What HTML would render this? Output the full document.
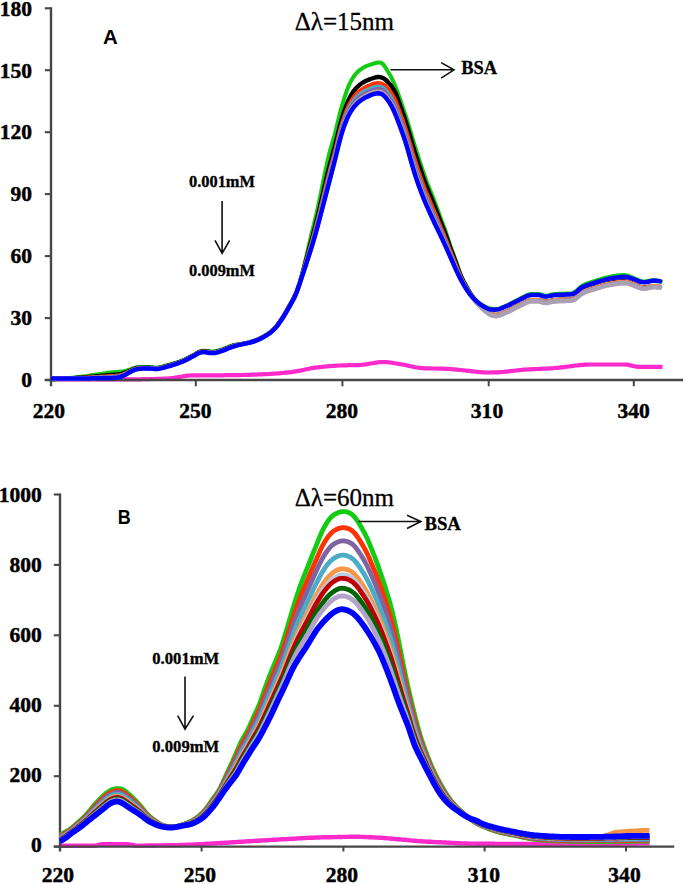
<!DOCTYPE html>
<html><head><meta charset="utf-8"><style>
html,body{margin:0;padding:0;background:#fff;}
body{width:685px;height:884px;overflow:hidden;position:relative;}
svg{position:absolute;left:0;top:0;}
text{fill:#000;}
.tk{font-family:"Liberation Serif",serif;font-weight:bold;font-size:20.5px;stroke:#000;stroke-width:0.45px;}
.ttl{font-family:"Liberation Serif",serif;font-size:25px;stroke:#000;stroke-width:0.3px;}
.bsa{font-family:"Liberation Serif",serif;font-weight:bold;font-size:19px;stroke:#000;stroke-width:0.3px;}
.lab{font-family:"Liberation Sans",sans-serif;font-weight:bold;font-size:20px;}
.conc{font-family:"Liberation Serif",serif;font-weight:bold;font-size:16.5px;stroke:#000;stroke-width:0.3px;}
</style></head><body>
<svg width="685" height="884" viewBox="0 0 685 884">
<g fill="none" stroke-linejoin="round" stroke-linecap="butt">
<path d="M51.0 379.3L52.5 379.3L54.0 379.3L55.5 379.3L57.0 379.3L58.5 379.3L60.0 379.3L61.5 379.3L63.0 379.3L64.5 379.3L66.0 379.3L67.5 379.3L69.0 379.3L70.5 379.3L72.0 379.3L73.5 379.3L75.0 379.3L76.5 379.3L78.0 379.3L79.5 379.3L81.0 379.3L82.5 379.3L84.0 379.3L85.5 379.3L87.0 379.3L88.5 379.3L90.0 379.3L91.5 379.3L93.0 379.3L94.5 379.3L96.0 379.3L97.5 379.3L99.0 379.3L100.5 379.3L102.0 379.3L103.5 379.3L105.0 379.3L106.5 379.3L108.0 379.3L109.5 379.3L111.0 379.3L112.5 379.3L114.0 379.3L115.5 379.3L117.0 379.3L118.5 379.3L120.0 379.3L121.5 379.3L123.0 379.3L124.5 379.3L126.0 379.3L127.5 379.4L129.0 379.4L130.5 379.4L132.0 379.4L133.5 379.4L135.0 379.4L136.5 379.4L138.0 379.3L139.5 379.3L141.0 379.3L142.5 379.2L144.0 379.2L145.5 379.2L147.0 379.1L148.5 379.1L150.0 379.1L151.5 379.0L153.0 379.0L154.5 379.0L156.0 378.9L157.5 378.9L159.0 378.8L160.5 378.8L162.0 378.8L163.5 378.7L165.0 378.6L166.5 378.6L168.0 378.5L169.5 378.3L171.0 378.2L172.5 378.0L174.0 377.8L175.5 377.5L177.0 377.3L178.5 377.0L180.0 376.8L181.5 376.6L183.0 376.3L184.5 376.1L186.0 375.9L187.5 375.7L189.0 375.6L190.5 375.5L192.0 375.4L193.5 375.4L195.0 375.4L196.5 375.4L198.0 375.4L199.5 375.3L201.0 375.3L202.5 375.3L204.0 375.3L205.5 375.3L207.0 375.3L208.5 375.3L210.0 375.3L211.5 375.3L213.0 375.3L214.5 375.3L216.0 375.3L217.5 375.3L219.0 375.3L220.5 375.3L222.0 375.3L223.5 375.3L225.0 375.2L226.5 375.2L228.0 375.2L229.5 375.2L231.0 375.2L232.5 375.2L234.0 375.2L235.5 375.2L237.0 375.1L238.5 375.1L240.0 375.1L241.5 375.0L243.0 375.0L244.5 375.0L246.0 374.9L247.5 374.9L249.0 374.8L250.5 374.8L252.0 374.7L253.5 374.7L255.0 374.6L256.5 374.6L258.0 374.5L259.5 374.4L261.0 374.4L262.5 374.3L264.0 374.2L265.5 374.2L267.0 374.1L268.5 374.0L270.0 373.9L271.5 373.8L273.0 373.7L274.5 373.6L276.0 373.5L277.5 373.4L279.0 373.3L280.5 373.1L282.0 373.0L283.5 372.9L285.0 372.7L286.5 372.6L288.0 372.4L289.5 372.3L291.0 372.1L292.5 371.9L294.0 371.7L295.5 371.4L297.0 371.2L298.5 370.9L300.0 370.7L301.5 370.4L303.0 370.0L304.5 369.7L306.0 369.3L307.5 369.0L309.0 368.7L310.5 368.4L312.0 368.2L313.5 367.9L315.0 367.7L316.5 367.5L318.0 367.3L319.5 367.1L321.0 367.0L322.5 366.8L324.0 366.6L325.5 366.5L327.0 366.4L328.5 366.2L330.0 366.1L331.5 366.0L333.0 365.9L334.5 365.8L336.0 365.7L337.5 365.6L339.0 365.5L340.5 365.4L342.0 365.4L343.5 365.3L345.0 365.3L346.5 365.3L348.0 365.2L349.5 365.2L351.0 365.2L352.5 365.2L354.0 365.2L355.5 365.1L357.0 365.1L358.5 365.1L360.0 365.0L361.5 364.9L363.0 364.7L364.5 364.5L366.0 364.3L367.5 364.1L369.0 363.8L370.5 363.5L372.0 363.3L373.5 363.0L375.0 362.8L376.5 362.6L378.0 362.4L379.5 362.2L381.0 362.1L382.5 362.1L384.0 362.1L385.5 362.1L387.0 362.2L388.5 362.3L390.0 362.5L391.5 362.7L393.0 363.0L394.5 363.2L396.0 363.5L397.5 363.7L399.0 364.0L400.5 364.2L402.0 364.5L403.5 364.7L405.0 365.0L406.5 365.3L408.0 365.6L409.5 366.0L411.0 366.3L412.5 366.6L414.0 367.0L415.5 367.3L417.0 367.5L418.5 367.8L420.0 367.9L421.5 368.1L423.0 368.2L424.5 368.3L426.0 368.3L427.5 368.4L429.0 368.4L430.5 368.4L432.0 368.5L433.5 368.5L435.0 368.5L436.5 368.6L438.0 368.6L439.5 368.6L441.0 368.6L442.5 368.7L444.0 368.7L445.5 368.8L447.0 368.9L448.5 368.9L450.0 369.0L451.5 369.2L453.0 369.3L454.5 369.4L456.0 369.6L457.5 369.7L459.0 369.9L460.5 370.0L462.0 370.2L463.5 370.3L465.0 370.5L466.5 370.6L468.0 370.8L469.5 370.9L471.0 371.1L472.5 371.3L474.0 371.5L475.5 371.6L477.0 371.8L478.5 372.0L480.0 372.1L481.5 372.2L483.0 372.3L484.5 372.4L486.0 372.5L487.5 372.5L489.0 372.5L490.5 372.5L492.0 372.4L493.5 372.4L495.0 372.4L496.5 372.3L498.0 372.3L499.5 372.2L501.0 372.1L502.5 372.0L504.0 371.9L505.5 371.7L507.0 371.6L508.5 371.4L510.0 371.2L511.5 371.0L513.0 370.8L514.5 370.7L516.0 370.5L517.5 370.3L519.0 370.1L520.5 370.0L522.0 369.9L523.5 369.7L525.0 369.6L526.5 369.5L528.0 369.4L529.5 369.4L531.0 369.3L532.5 369.2L534.0 369.1L535.5 369.1L537.0 369.0L538.5 368.9L540.0 368.9L541.5 368.8L543.0 368.7L544.5 368.7L546.0 368.6L547.5 368.5L549.0 368.4L550.5 368.4L552.0 368.3L553.5 368.2L555.0 368.0L556.5 367.9L558.0 367.8L559.5 367.6L561.0 367.4L562.5 367.3L564.0 367.1L565.5 366.9L567.0 366.7L568.5 366.5L570.0 366.3L571.5 366.1L573.0 365.9L574.5 365.7L576.0 365.5L577.5 365.4L579.0 365.2L580.5 365.1L582.0 364.9L583.5 364.8L585.0 364.7L586.5 364.6L588.0 364.6L589.5 364.5L591.0 364.5L592.5 364.5L594.0 364.5L595.5 364.5L597.0 364.5L598.5 364.5L600.0 364.5L601.5 364.5L603.0 364.5L604.5 364.5L606.0 364.5L607.5 364.5L609.0 364.5L610.5 364.5L612.0 364.5L613.5 364.5L615.0 364.5L616.5 364.5L618.0 364.5L619.5 364.5L621.0 364.5L622.5 364.5L624.0 364.5L625.5 364.6L627.0 364.7L628.5 364.9L630.0 365.2L631.5 365.6L633.0 365.9L634.5 366.3L636.0 366.6L637.5 366.7L639.0 366.8L640.5 366.8L642.0 366.8L643.5 366.8L645.0 366.8L646.5 366.8L648.0 366.8L649.5 366.8L651.0 366.8L652.5 366.8L654.0 366.8L655.5 366.8L657.0 366.8L658.5 366.8L660.0 366.8L661.5 366.8L662.5 366.8" stroke="#ff2acc" stroke-width="4.2"/>
<path d="M60.0 845.7L61.5 845.7L63.0 845.7L64.5 845.7L66.0 845.7L67.5 845.7L69.0 845.7L70.5 845.7L72.0 845.7L73.5 845.7L75.0 845.7L76.5 845.7L78.0 845.7L79.5 845.7L81.0 845.7L82.5 845.7L84.0 845.7L85.5 845.7L87.0 845.7L88.5 845.7L90.0 845.7L91.5 845.7L93.0 845.7L94.5 845.7L96.0 845.5L97.5 845.2L99.0 844.8L100.5 844.5L102.0 844.3L103.5 844.3L105.0 844.3L106.5 844.3L108.0 844.3L109.5 844.3L111.0 844.3L112.5 844.3L114.0 844.3L115.5 844.3L117.0 844.3L118.5 844.3L120.0 844.3L121.5 844.3L123.0 844.3L124.5 844.3L126.0 844.3L127.5 844.3L129.0 844.4L130.5 844.6L132.0 844.9L133.5 845.3L135.0 845.5L136.5 845.6L138.0 845.6L139.5 845.6L141.0 845.6L142.5 845.6L144.0 845.6L145.5 845.6L147.0 845.5L148.5 845.5L150.0 845.5L151.5 845.5L153.0 845.5L154.5 845.5L156.0 845.4L157.5 845.4L159.0 845.4L160.5 845.4L162.0 845.4L163.5 845.3L165.0 845.3L166.5 845.3L168.0 845.3L169.5 845.3L171.0 845.2L172.5 845.2L174.0 845.2L175.5 845.1L177.0 845.1L178.5 845.1L180.0 845.0L181.5 845.0L183.0 844.9L184.5 844.9L186.0 844.8L187.5 844.8L189.0 844.7L190.5 844.6L192.0 844.6L193.5 844.5L195.0 844.4L196.5 844.4L198.0 844.3L199.5 844.2L201.0 844.1L202.5 844.1L204.0 844.0L205.5 843.9L207.0 843.8L208.5 843.7L210.0 843.6L211.5 843.6L213.0 843.5L214.5 843.4L216.0 843.3L217.5 843.2L219.0 843.1L220.5 843.0L222.0 843.0L223.5 842.9L225.0 842.8L226.5 842.7L228.0 842.6L229.5 842.5L231.0 842.4L232.5 842.3L234.0 842.2L235.5 842.1L237.0 842.0L238.5 841.9L240.0 841.8L241.5 841.7L243.0 841.6L244.5 841.5L246.0 841.4L247.5 841.3L249.0 841.3L250.5 841.2L252.0 841.1L253.5 841.0L255.0 840.9L256.5 840.8L258.0 840.7L259.5 840.6L261.0 840.5L262.5 840.4L264.0 840.4L265.5 840.3L267.0 840.2L268.5 840.1L270.0 840.0L271.5 839.9L273.0 839.8L274.5 839.8L276.0 839.7L277.5 839.6L279.0 839.5L280.5 839.4L282.0 839.3L283.5 839.3L285.0 839.2L286.5 839.1L288.0 839.0L289.5 838.9L291.0 838.8L292.5 838.7L294.0 838.7L295.5 838.6L297.0 838.5L298.5 838.4L300.0 838.3L301.5 838.2L303.0 838.1L304.5 838.1L306.0 838.0L307.5 837.9L309.0 837.8L310.5 837.8L312.0 837.7L313.5 837.7L315.0 837.6L316.5 837.5L318.0 837.5L319.5 837.5L321.0 837.4L322.5 837.4L324.0 837.3L325.5 837.3L327.0 837.3L328.5 837.2L330.0 837.2L331.5 837.2L333.0 837.1L334.5 837.1L336.0 837.1L337.5 837.0L339.0 837.0L340.5 837.0L342.0 837.0L343.5 836.9L345.0 836.9L346.5 836.9L348.0 836.9L349.5 836.8L351.0 836.8L352.5 836.8L354.0 836.8L355.5 836.8L357.0 836.8L358.5 836.8L360.0 836.9L361.5 836.9L363.0 836.9L364.5 837.0L366.0 837.1L367.5 837.1L369.0 837.2L370.5 837.3L372.0 837.3L373.5 837.4L375.0 837.5L376.5 837.6L378.0 837.6L379.5 837.7L381.0 837.8L382.5 837.9L384.0 838.0L385.5 838.1L387.0 838.3L388.5 838.4L390.0 838.5L391.5 838.7L393.0 838.8L394.5 838.9L396.0 839.1L397.5 839.2L399.0 839.3L400.5 839.4L402.0 839.6L403.5 839.7L405.0 839.8L406.5 840.0L408.0 840.1L409.5 840.3L411.0 840.4L412.5 840.6L414.0 840.7L415.5 840.8L417.0 841.0L418.5 841.1L420.0 841.2L421.5 841.3L423.0 841.4L424.5 841.5L426.0 841.6L427.5 841.7L429.0 841.8L430.5 841.8L432.0 841.9L433.5 842.0L435.0 842.1L436.5 842.1L438.0 842.2L439.5 842.3L441.0 842.3L442.5 842.4L444.0 842.5L445.5 842.5L447.0 842.6L448.5 842.7L450.0 842.8L451.5 842.9L453.0 842.9L454.5 843.0L456.0 843.1L457.5 843.2L459.0 843.3L460.5 843.3L462.0 843.4L463.5 843.4L465.0 843.5L466.5 843.5L468.0 843.5L469.5 843.6L471.0 843.6L472.5 843.6L474.0 843.6L475.5 843.6L477.0 843.7L478.5 843.7L480.0 843.7L481.5 843.7L483.0 843.7L484.5 843.8L486.0 843.8L487.5 843.8L489.0 843.8L490.5 843.8L492.0 843.8L493.5 843.8L495.0 843.9L496.5 843.9L498.0 843.9L499.5 843.9L501.0 843.9L502.5 843.9L504.0 843.9L505.5 843.9L507.0 843.9L508.5 844.0L510.0 844.0L511.5 844.0L513.0 844.0L514.5 844.0L516.0 844.0L517.5 844.0L519.0 844.0L520.5 844.0L522.0 844.0L523.5 844.0L525.0 844.0L526.5 844.0L528.0 844.0L529.5 844.0L531.0 844.0L532.5 844.0L534.0 844.0L535.5 844.0L537.0 844.0L538.5 844.0L540.0 844.0L541.5 844.0L543.0 844.0L544.5 844.0L546.0 844.0L547.5 844.0L549.0 844.0L550.5 844.0L552.0 844.0L553.5 844.0L555.0 844.0L556.5 844.0L558.0 844.0L559.5 844.0L561.0 843.9L562.5 843.9L564.0 843.9L565.5 843.9L567.0 843.9L568.5 843.9L570.0 843.9L571.5 843.9L573.0 843.9L574.5 843.9L576.0 843.9L577.5 843.9L579.0 843.9L580.5 843.9L582.0 843.9L583.5 843.9L585.0 843.9L586.5 843.9L588.0 843.9L589.5 843.8L591.0 843.8L592.5 843.8L594.0 843.8L595.5 843.8L597.0 843.8L598.5 843.8L600.0 843.8L601.5 843.8L603.0 843.8L604.5 843.8L606.0 843.8L607.5 843.8L609.0 843.7L610.5 843.7L612.0 843.7L613.5 843.7L615.0 843.7L616.5 843.7L618.0 843.7L619.5 843.7L621.0 843.6L622.5 843.6L624.0 843.6L625.5 843.6L627.0 843.6L628.5 843.6L630.0 843.5L631.5 843.5L633.0 843.5L634.5 843.5L636.0 843.5L637.5 843.5L639.0 843.4L640.5 843.4L642.0 843.4L643.5 843.4L645.0 843.4L646.5 843.3L648.0 843.3L649.5 843.3" stroke="#ff2acc" stroke-width="4.4"/>
</g>
<g fill="none" stroke-linecap="butt">
<path d="M51.0 7.2L51.0 386.3" stroke="#474747" stroke-width="2.4"/>
<path d="M44.8 380.0L683.0 380.0" stroke="#474747" stroke-width="2.3"/>
<path d="M44.8 380.0L51.0 380.0" stroke="#474747" stroke-width="2.1"/>
<path d="M44.8 318.1L51.0 318.1" stroke="#474747" stroke-width="2.1"/>
<path d="M44.8 256.1L51.0 256.1" stroke="#474747" stroke-width="2.1"/>
<path d="M44.8 194.1L51.0 194.1" stroke="#474747" stroke-width="2.1"/>
<path d="M44.8 132.2L51.0 132.2" stroke="#474747" stroke-width="2.1"/>
<path d="M44.8 70.2L51.0 70.2" stroke="#474747" stroke-width="2.1"/>
<path d="M44.8 8.3L51.0 8.3" stroke="#474747" stroke-width="2.1"/>
<path d="M195.8 380.0L195.8 386.3" stroke="#474747" stroke-width="2"/>
<path d="M342.4 380.0L342.4 386.3" stroke="#474747" stroke-width="2"/>
<path d="M488.7 380.0L488.7 386.3" stroke="#474747" stroke-width="2"/>
<path d="M633.8 380.0L633.8 386.3" stroke="#474747" stroke-width="2"/>
<path d="M60.0 493.4L60.0 851.5" stroke="#474747" stroke-width="2.4"/>
<path d="M53.8 846.6L674.2 846.6" stroke="#474747" stroke-width="2.3"/>
<path d="M53.8 846.6L60.0 846.6" stroke="#474747" stroke-width="2.1"/>
<path d="M53.8 776.2L60.0 776.2" stroke="#474747" stroke-width="2.1"/>
<path d="M53.8 705.8L60.0 705.8" stroke="#474747" stroke-width="2.1"/>
<path d="M53.8 635.3L60.0 635.3" stroke="#474747" stroke-width="2.1"/>
<path d="M53.8 564.9L60.0 564.9" stroke="#474747" stroke-width="2.1"/>
<path d="M53.8 494.5L60.0 494.5" stroke="#474747" stroke-width="2.1"/>
<path d="M201.6 846.6L201.6 851.5" stroke="#474747" stroke-width="2"/>
<path d="M343.4 846.6L343.4 851.5" stroke="#474747" stroke-width="2"/>
<path d="M484.6 846.6L484.6 851.5" stroke="#474747" stroke-width="2"/>
<path d="M626.0 846.6L626.0 851.5" stroke="#474747" stroke-width="2"/>
</g>
<g fill="none" stroke-linejoin="round" stroke-linecap="butt">
<path d="M51.0 379.5L52.5 379.4L54.0 379.3L55.5 379.2L57.0 379.1L58.5 379.0L60.0 378.9L61.5 378.8L63.0 378.6L64.5 378.5L66.0 378.4L67.5 378.2L69.0 378.1L70.5 378.0L72.0 377.8L73.5 377.7L75.0 377.5L76.5 377.3L78.0 377.2L79.5 377.0L81.0 376.8L82.5 376.6L84.0 376.4L85.5 376.2L87.0 375.9L88.5 375.7L90.0 375.5L91.5 375.3L93.0 375.1L94.5 374.8L96.0 374.6L97.5 374.4L99.0 374.1L100.5 373.9L102.0 373.7L103.5 373.4L105.0 373.2L106.5 373.0L108.0 372.8L109.5 372.6L111.0 372.4L112.5 372.3L114.0 372.2L115.5 372.1L117.0 372.0L118.5 371.8L120.0 371.7L121.5 371.5L123.0 371.3L124.5 371.0L126.0 370.6L127.5 370.2L129.0 369.8L130.5 369.3L132.0 368.7L133.5 368.1L135.0 367.6L136.5 367.3L138.0 367.1L139.5 367.0L141.0 367.0L142.5 367.0L144.0 367.0L145.5 367.0L147.0 367.0L148.5 367.1L150.0 367.2L151.5 367.2L153.0 367.3L154.5 367.4L156.0 367.4L157.5 367.4L159.0 367.2L160.5 366.9L162.0 366.6L163.5 366.2L165.0 365.8L166.5 365.3L168.0 364.9L169.5 364.5L171.0 364.1L172.5 363.7L174.0 363.3L175.5 362.8L177.0 362.3L178.5 361.8L180.0 361.3L181.5 360.8L183.0 360.2L184.5 359.5L186.0 358.8L187.5 358.1L189.0 357.3L190.5 356.5L192.0 355.7L193.5 354.9L195.0 354.0L196.5 353.1L198.0 352.2L199.5 351.5L201.0 351.0L202.5 350.7L204.0 350.7L205.5 350.7L207.0 350.9L208.5 351.1L210.0 351.3L211.5 351.4L213.0 351.4L214.5 351.3L216.0 351.0L217.5 350.7L219.0 350.3L220.5 349.8L222.0 349.3L223.5 348.8L225.0 348.2L226.5 347.6L228.0 347.0L229.5 346.3L231.0 345.8L232.5 345.3L234.0 345.0L235.5 344.8L237.0 344.6L238.5 344.4L240.0 344.3L241.5 344.0L243.0 343.8L244.5 343.5L246.0 343.1L247.5 342.8L249.0 342.4L250.5 342.0L252.0 341.5L253.5 341.0L255.0 340.5L256.5 339.9L258.0 339.3L259.5 338.6L261.0 337.9L262.5 337.1L264.0 336.3L265.5 335.4L267.0 334.5L268.5 333.4L270.0 332.3L271.5 331.0L273.0 329.7L274.5 328.2L276.0 326.5L277.5 324.7L279.0 322.7L280.5 320.5L282.0 318.3L283.5 315.9L285.0 313.4L286.5 310.8L288.0 308.1L289.5 305.4L291.0 302.7L292.5 300.0L294.0 297.2L295.5 294.0L297.0 290.4L298.5 286.1L300.0 281.3L301.5 276.0L303.0 270.2L304.5 264.1L306.0 257.7L307.5 251.1L309.0 244.6L310.5 238.2L312.0 232.0L313.5 226.0L315.0 219.8L316.5 213.4L318.0 206.7L319.5 199.7L321.0 192.5L322.5 185.0L324.0 177.6L325.5 170.2L327.0 163.2L328.5 156.7L330.0 150.8L331.5 145.5L333.0 140.4L334.5 135.2L336.0 129.4L337.5 123.1L339.0 116.9L340.5 111.1L342.0 105.7L343.5 100.6L345.0 95.8L346.5 91.5L348.0 87.6L349.5 84.1L351.0 81.1L352.5 78.5L354.0 76.2L355.5 74.2L357.0 72.5L358.5 71.1L360.0 69.9L361.5 68.8L363.0 67.8L364.5 67.0L366.0 66.2L367.5 65.6L369.0 65.1L370.5 64.6L372.0 64.1L373.5 63.6L375.0 63.2L376.5 62.8L378.0 62.5L379.5 62.5L381.0 62.8L382.5 63.7L384.0 65.3L385.5 67.6L387.0 70.0L388.5 72.5L390.0 75.1L391.5 77.8L393.0 80.8L394.5 84.2L396.0 87.9L397.5 92.0L399.0 96.2L400.5 100.4L402.0 104.7L403.5 109.1L405.0 113.6L406.5 118.2L408.0 123.1L409.5 128.1L411.0 133.1L412.5 138.2L414.0 143.1L415.5 148.0L417.0 152.7L418.5 157.3L420.0 162.0L421.5 166.5L423.0 171.1L424.5 175.5L426.0 179.7L427.5 183.6L429.0 187.4L430.5 191.0L432.0 194.8L433.5 198.6L435.0 202.5L436.5 206.5L438.0 210.7L439.5 215.0L441.0 219.1L442.5 223.0L444.0 226.9L445.5 231.0L447.0 235.4L448.5 240.0L450.0 244.6L451.5 248.8L453.0 252.9L454.5 256.9L456.0 261.2L457.5 265.7L459.0 270.1L460.5 274.2L462.0 277.7L463.5 280.7L465.0 283.5L466.5 286.2L468.0 288.9L469.5 291.6L471.0 294.1L472.5 296.3L474.0 298.2L475.5 299.8L477.0 301.3L478.5 302.5L480.0 303.6L481.5 304.6L483.0 305.4L484.5 306.2L486.0 307.0L487.5 307.7L489.0 308.2L490.5 308.6L492.0 308.8L493.5 308.9L495.0 308.9L496.5 308.9L498.0 308.8L499.5 308.5L501.0 307.9L502.5 307.3L504.0 306.6L505.5 305.9L507.0 305.3L508.5 304.6L510.0 303.8L511.5 303.1L513.0 302.3L514.5 301.5L516.0 300.7L517.5 299.9L519.0 299.1L520.5 298.4L522.0 297.6L523.5 296.8L525.0 296.0L526.5 295.3L528.0 294.7L529.5 294.3L531.0 294.1L532.5 294.0L534.0 294.0L535.5 294.0L537.0 294.0L538.5 294.1L540.0 294.3L541.5 294.7L543.0 295.2L544.5 295.6L546.0 295.7L547.5 295.5L549.0 295.2L550.5 294.8L552.0 294.4L553.5 294.2L555.0 294.0L556.5 293.9L558.0 293.8L559.5 293.8L561.0 293.7L562.5 293.7L564.0 293.7L565.5 293.6L567.0 293.6L568.5 293.5L570.0 293.4L571.5 293.3L573.0 292.9L574.5 292.2L576.0 291.1L577.5 289.8L579.0 288.3L580.5 286.9L582.0 285.9L583.5 285.0L585.0 284.3L586.5 283.7L588.0 283.1L589.5 282.6L591.0 282.1L592.5 281.7L594.0 281.2L595.5 280.7L597.0 280.2L598.5 279.8L600.0 279.3L601.5 278.8L603.0 278.4L604.5 278.0L606.0 277.6L607.5 277.2L609.0 276.9L610.5 276.6L612.0 276.3L613.5 276.0L615.0 275.8L616.5 275.6L618.0 275.5L619.5 275.3L621.0 275.2L622.5 275.1L624.0 275.1L625.5 275.2L627.0 275.5L628.5 275.9L630.0 276.5L631.5 277.1L633.0 277.7L634.5 278.4L636.0 279.1L637.5 279.7L639.0 280.3L640.5 280.9L642.0 281.3L643.5 281.5L645.0 281.5L646.5 281.3L648.0 281.0L649.5 280.7L651.0 280.4L652.5 280.2L654.0 280.1L655.5 280.2L657.0 280.5L658.5 280.8L660.0 281.3L661.5 281.8L662.5 282.2" stroke="#11cc11" stroke-width="4.0"/>
<path d="M51.0 379.1L52.5 379.0L54.0 379.0L55.5 378.9L57.0 378.9L58.5 378.8L60.0 378.7L61.5 378.7L63.0 378.6L64.5 378.5L66.0 378.5L67.5 378.4L69.0 378.3L70.5 378.2L72.0 378.1L73.5 378.1L75.0 378.0L76.5 377.9L78.0 377.8L79.5 377.7L81.0 377.6L82.5 377.5L84.0 377.3L85.5 377.2L87.0 377.1L88.5 377.0L90.0 376.8L91.5 376.7L93.0 376.6L94.5 376.5L96.0 376.3L97.5 376.2L99.0 376.1L100.5 375.9L102.0 375.8L103.5 375.7L105.0 375.5L106.5 375.4L108.0 375.2L109.5 375.1L111.0 375.0L112.5 374.9L114.0 374.8L115.5 374.7L117.0 374.6L118.5 374.4L120.0 374.2L121.5 373.9L123.0 373.4L124.5 372.9L126.0 372.4L127.5 371.8L129.0 371.1L130.5 370.5L132.0 369.8L133.5 369.2L135.0 368.6L136.5 368.2L138.0 368.0L139.5 367.9L141.0 367.8L142.5 367.7L144.0 367.7L145.5 367.7L147.0 367.7L148.5 367.7L150.0 367.8L151.5 367.9L153.0 368.0L154.5 368.1L156.0 368.1L157.5 368.1L159.0 367.9L160.5 367.6L162.0 367.3L163.5 366.9L165.0 366.5L166.5 366.0L168.0 365.6L169.5 365.2L171.0 364.8L172.5 364.4L174.0 363.9L175.5 363.5L177.0 363.0L178.5 362.4L180.0 361.9L181.5 361.3L183.0 360.7L184.5 360.1L186.0 359.3L187.5 358.6L189.0 357.8L190.5 357.0L192.0 356.2L193.5 355.4L195.0 354.6L196.5 353.7L198.0 352.8L199.5 352.1L201.0 351.6L202.5 351.4L204.0 351.3L205.5 351.4L207.0 351.6L208.5 351.8L210.0 352.0L211.5 352.1L213.0 352.2L214.5 352.1L216.0 351.8L217.5 351.5L219.0 351.0L220.5 350.6L222.0 350.1L223.5 349.5L225.0 349.0L226.5 348.3L228.0 347.7L229.5 347.1L231.0 346.5L232.5 346.0L234.0 345.6L235.5 345.3L237.0 345.0L238.5 344.7L240.0 344.5L241.5 344.2L243.0 343.9L244.5 343.6L246.0 343.3L247.5 342.9L249.0 342.6L250.5 342.2L252.0 341.7L253.5 341.3L255.0 340.7L256.5 340.2L258.0 339.6L259.5 338.9L261.0 338.1L262.5 337.4L264.0 336.5L265.5 335.7L267.0 334.7L268.5 333.7L270.0 332.6L271.5 331.3L273.0 330.0L274.5 328.5L276.0 326.9L277.5 325.0L279.0 323.0L280.5 320.9L282.0 318.6L283.5 316.3L285.0 313.8L286.5 311.2L288.0 308.6L289.5 305.9L291.0 303.2L292.5 300.5L294.0 297.6L295.5 294.5L297.0 290.8L298.5 286.6L300.0 281.9L301.5 277.0L303.0 271.8L304.5 266.4L306.0 260.9L307.5 255.3L309.0 249.6L310.5 244.0L312.0 238.5L313.5 232.9L315.0 227.2L316.5 221.3L318.0 215.2L319.5 208.9L321.0 202.3L322.5 195.7L324.0 189.0L325.5 182.4L327.0 176.0L328.5 169.8L330.0 164.0L331.5 158.5L333.0 153.2L334.5 147.6L336.0 141.7L337.5 135.5L339.0 129.4L340.5 123.6L342.0 118.3L343.5 113.4L345.0 109.0L346.5 104.9L348.0 101.3L349.5 98.1L351.0 95.2L352.5 92.8L354.0 90.6L355.5 88.8L357.0 87.2L358.5 85.8L360.0 84.5L361.5 83.5L363.0 82.5L364.5 81.6L366.0 80.8L367.5 80.2L369.0 79.6L370.5 79.0L372.0 78.5L373.5 78.0L375.0 77.5L376.5 77.2L378.0 77.0L379.5 77.0L381.0 77.3L382.5 77.9L384.0 78.5L385.5 79.7L387.0 81.1L388.5 82.7L390.0 84.4L391.5 86.3L393.0 88.6L394.5 91.1L396.0 94.1L397.5 98.1L399.0 102.2L400.5 106.4L402.0 110.7L403.5 115.0L405.0 119.5L406.5 124.2L408.0 129.1L409.5 134.2L411.0 139.3L412.5 144.4L414.0 149.3L415.5 154.1L417.0 158.8L418.5 163.4L420.0 167.9L421.5 172.4L423.0 176.8L424.5 181.0L426.0 185.1L427.5 188.9L429.0 192.6L430.5 196.2L432.0 199.8L433.5 203.4L435.0 207.2L436.5 211.1L438.0 215.0L439.5 219.0L441.0 222.9L442.5 226.7L444.0 230.4L445.5 234.3L447.0 238.5L448.5 242.8L450.0 247.1L451.5 251.2L453.0 255.1L454.5 259.0L456.0 263.1L457.5 267.3L459.0 271.4L460.5 275.2L462.0 278.6L463.5 281.5L465.0 284.2L466.5 286.9L468.0 289.5L469.5 292.1L471.0 294.4L472.5 296.7L474.0 298.9L475.5 300.9L477.0 302.7L478.5 304.3L480.0 305.8L481.5 307.2L483.0 308.5L484.5 309.7L486.0 310.9L487.5 312.0L489.0 312.9L490.5 313.7L492.0 314.3L493.5 314.8L495.0 315.0L496.5 314.9L498.0 314.8L499.5 314.4L501.0 313.9L502.5 313.2L504.0 312.6L505.5 311.9L507.0 311.3L508.5 310.6L510.0 309.8L511.5 309.1L513.0 308.3L514.5 307.5L516.0 306.7L517.5 305.9L519.0 305.2L520.5 304.4L522.0 303.7L523.5 302.9L525.0 302.1L526.5 301.3L528.0 300.8L529.5 300.4L531.0 300.2L532.5 300.1L534.0 300.1L535.5 300.1L537.0 300.1L538.5 300.2L540.0 300.4L541.5 300.8L543.0 301.3L544.5 301.7L546.0 301.7L547.5 301.6L549.0 301.3L550.5 300.9L552.0 300.5L553.5 300.2L555.0 300.1L556.5 300.0L558.0 299.9L559.5 299.8L561.0 299.8L562.5 299.8L564.0 299.7L565.5 299.7L567.0 299.7L568.5 299.6L570.0 299.5L571.5 299.3L573.0 298.9L574.5 298.3L576.0 297.2L577.5 295.9L579.0 294.4L580.5 293.1L582.0 292.1L583.5 291.2L585.0 290.5L586.5 289.9L588.0 289.3L589.5 288.8L591.0 288.4L592.5 287.9L594.0 287.4L595.5 287.0L597.0 286.5L598.5 286.0L600.0 285.5L601.5 285.1L603.0 284.6L604.5 284.2L606.0 283.8L607.5 283.5L609.0 283.2L610.5 282.9L612.0 282.6L613.5 282.3L615.0 282.1L616.5 281.9L618.0 281.7L619.5 281.6L621.0 281.4L622.5 281.3L624.0 281.3L625.5 281.4L627.0 281.7L628.5 282.1L630.0 282.6L631.5 283.2L633.0 283.8L634.5 284.5L636.0 285.2L637.5 285.8L639.0 286.4L640.5 286.9L642.0 287.3L643.5 287.5L645.0 287.5L646.5 287.4L648.0 287.0L649.5 286.7L651.0 286.4L652.5 286.2L654.0 286.1L655.5 286.2L657.0 286.4L658.5 286.7L660.0 286.9L659.5 287.0" stroke="#000000" stroke-width="4.4"/>
<path d="M51.0 378.9L52.5 378.9L54.0 378.8L55.5 378.8L57.0 378.8L58.5 378.7L60.0 378.7L61.5 378.6L63.0 378.6L64.5 378.5L66.0 378.5L67.5 378.4L69.0 378.4L70.5 378.3L72.0 378.3L73.5 378.2L75.0 378.2L76.5 378.1L78.0 378.0L79.5 378.0L81.0 377.9L82.5 377.8L84.0 377.7L85.5 377.7L87.0 377.6L88.5 377.5L90.0 377.4L91.5 377.3L93.0 377.2L94.5 377.1L96.0 377.1L97.5 377.0L99.0 376.9L100.5 376.8L102.0 376.7L103.5 376.6L105.0 376.5L106.5 376.4L108.0 376.3L109.5 376.2L111.0 376.1L112.5 376.0L114.0 376.0L115.5 375.9L117.0 375.7L118.5 375.6L120.0 375.3L121.5 374.9L123.0 374.4L124.5 373.8L126.0 373.1L127.5 372.4L129.0 371.7L130.5 371.0L132.0 370.3L133.5 369.6L135.0 369.0L136.5 368.6L138.0 368.4L139.5 368.2L141.0 368.1L142.5 368.0L144.0 368.0L145.5 368.0L147.0 368.0L148.5 368.0L150.0 368.1L151.5 368.2L153.0 368.3L154.5 368.4L156.0 368.4L157.5 368.4L159.0 368.2L160.5 367.9L162.0 367.6L163.5 367.2L165.0 366.8L166.5 366.3L168.0 365.9L169.5 365.5L171.0 365.1L172.5 364.7L174.0 364.2L175.5 363.7L177.0 363.2L178.5 362.7L180.0 362.2L181.5 361.6L183.0 361.0L184.5 360.3L186.0 359.6L187.5 358.8L189.0 358.0L190.5 357.3L192.0 356.5L193.5 355.6L195.0 354.8L196.5 353.9L198.0 353.1L199.5 352.4L201.0 351.9L202.5 351.7L204.0 351.6L205.5 351.7L207.0 351.9L208.5 352.1L210.0 352.3L211.5 352.5L213.0 352.5L214.5 352.4L216.0 352.2L217.5 351.8L219.0 351.4L220.5 350.9L222.0 350.4L223.5 349.8L225.0 349.3L226.5 348.7L228.0 348.0L229.5 347.4L231.0 346.8L232.5 346.3L234.0 345.9L235.5 345.5L237.0 345.2L238.5 344.9L240.0 344.6L241.5 344.3L243.0 344.0L244.5 343.6L246.0 343.3L247.5 343.0L249.0 342.6L250.5 342.2L252.0 341.8L253.5 341.4L255.0 340.8L256.5 340.3L258.0 339.7L259.5 339.0L261.0 338.2L262.5 337.5L264.0 336.6L265.5 335.8L267.0 334.8L268.5 333.8L270.0 332.7L271.5 331.5L273.0 330.1L274.5 328.6L276.0 327.0L277.5 325.2L279.0 323.2L280.5 321.0L282.0 318.8L283.5 316.4L285.0 314.0L286.5 311.4L288.0 308.8L289.5 306.1L291.0 303.4L292.5 300.7L294.0 297.8L295.5 294.7L297.0 291.0L298.5 286.7L300.0 282.2L301.5 277.3L303.0 272.4L304.5 267.4L306.0 262.2L307.5 257.0L309.0 251.8L310.5 246.5L312.0 241.3L313.5 235.9L315.0 230.4L316.5 224.7L318.0 218.8L319.5 212.8L321.0 206.5L322.5 200.2L324.0 193.9L325.5 187.6L327.0 181.4L328.5 175.4L330.0 169.7L331.5 164.1L333.0 158.6L334.5 153.0L336.0 147.0L337.5 140.8L339.0 134.7L340.5 128.9L342.0 123.7L343.5 118.9L345.0 114.5L346.5 110.6L348.0 107.1L349.5 104.0L351.0 101.3L352.5 98.9L354.0 96.8L355.5 95.0L357.0 93.4L358.5 92.0L360.0 90.8L361.5 89.7L363.0 88.7L364.5 87.8L366.0 87.0L367.5 86.3L369.0 85.7L370.5 85.1L372.0 84.6L373.5 84.1L375.0 83.6L376.5 83.3L378.0 83.2L379.5 83.2L381.0 83.5L382.5 84.1L384.0 84.9L385.5 86.2L387.0 87.8L388.5 89.5L390.0 91.4L391.5 93.5L393.0 96.0L394.5 98.8L396.0 101.9L397.5 105.9L399.0 110.0L400.5 114.1L402.0 118.3L403.5 122.6L405.0 127.1L406.5 131.8L408.0 136.8L409.5 141.9L411.0 147.1L412.5 152.3L414.0 157.2L415.5 162.0L417.0 166.6L418.5 171.1L420.0 175.5L421.5 179.8L423.0 184.0L424.5 188.0L426.0 191.9L427.5 195.6L429.0 199.1L430.5 202.6L432.0 206.1L433.5 209.7L435.0 213.2L436.5 216.8L438.0 220.5L439.5 224.1L441.0 227.8L442.5 231.3L444.0 234.9L445.5 238.6L447.0 242.4L448.5 246.4L450.0 250.3L451.5 254.2L453.0 257.9L454.5 261.6L456.0 265.5L457.5 269.3L459.0 273.1L460.5 276.6L462.0 279.7L463.5 282.5L465.0 285.2L466.5 287.7L468.0 290.2L469.5 292.6L471.0 294.8L472.5 296.9L474.0 299.0L475.5 301.0L477.0 302.8L478.5 304.4L480.0 306.0L481.5 307.4L483.0 308.7L484.5 309.9L486.0 311.1L487.5 312.2L489.0 313.2L490.5 314.0L492.0 314.5L493.5 315.0L495.0 315.2L496.5 315.1L498.0 315.0L499.5 314.6L501.0 314.1L502.5 313.4L504.0 312.7L505.5 312.1L507.0 311.4L508.5 310.8L510.0 310.0L511.5 309.3L513.0 308.5L514.5 307.7L516.0 306.9L517.5 306.2L519.0 305.4L520.5 304.7L522.0 303.9L523.5 303.1L525.0 302.3L526.5 301.6L528.0 301.0L529.5 300.6L531.0 300.4L532.5 300.4L534.0 300.4L535.5 300.4L537.0 300.4L538.5 300.4L540.0 300.7L541.5 301.1L543.0 301.5L544.5 301.9L546.0 302.0L547.5 301.8L549.0 301.5L550.5 301.1L552.0 300.8L553.5 300.5L555.0 300.3L556.5 300.2L558.0 300.2L559.5 300.1L561.0 300.1L562.5 300.1L564.0 300.0L565.5 300.0L567.0 299.9L568.5 299.9L570.0 299.8L571.5 299.6L573.0 299.2L574.5 298.6L576.0 297.5L577.5 296.2L579.0 294.8L580.5 293.5L582.0 292.5L583.5 291.7L585.0 291.0L586.5 290.4L588.0 289.8L589.5 289.3L591.0 288.9L592.5 288.4L594.0 288.0L595.5 287.5L597.0 287.0L598.5 286.5L600.0 286.0L601.5 285.6L603.0 285.1L604.5 284.7L606.0 284.3L607.5 284.0L609.0 283.7L610.5 283.4L612.0 283.1L613.5 282.9L615.0 282.7L616.5 282.5L618.0 282.3L619.5 282.1L621.0 281.9L622.5 281.8L624.0 281.8L625.5 281.9L627.0 282.1L628.5 282.5L630.0 283.0L631.5 283.6L633.0 284.2L634.5 284.8L636.0 285.5L637.5 286.1L639.0 286.7L640.5 287.2L642.0 287.6L643.5 287.8L645.0 287.8L646.5 287.6L648.0 287.3L649.5 286.9L651.0 286.6L652.5 286.4L654.0 286.3L655.5 286.3L657.0 286.5L658.5 286.7L660.0 286.9L659.5 287.0" stroke="#ff3300" stroke-width="4.2"/>
<path d="M51.0 378.8L52.5 378.8L54.0 378.8L55.5 378.7L57.0 378.7L58.5 378.7L60.0 378.6L61.5 378.6L63.0 378.6L64.5 378.5L66.0 378.5L67.5 378.5L69.0 378.4L70.5 378.4L72.0 378.4L73.5 378.3L75.0 378.3L76.5 378.2L78.0 378.2L79.5 378.1L81.0 378.1L82.5 378.0L84.0 378.0L85.5 377.9L87.0 377.9L88.5 377.8L90.0 377.7L91.5 377.7L93.0 377.6L94.5 377.5L96.0 377.5L97.5 377.4L99.0 377.3L100.5 377.3L102.0 377.2L103.5 377.1L105.0 377.0L106.5 377.0L108.0 376.9L109.5 376.8L111.0 376.7L112.5 376.7L114.0 376.6L115.5 376.5L117.0 376.4L118.5 376.2L120.0 375.9L121.5 375.4L123.0 374.9L124.5 374.2L126.0 373.5L127.5 372.8L129.0 372.0L130.5 371.3L132.0 370.5L133.5 369.8L135.0 369.3L136.5 368.8L138.0 368.6L139.5 368.4L141.0 368.3L142.5 368.2L144.0 368.2L145.5 368.1L147.0 368.1L148.5 368.2L150.0 368.3L151.5 368.4L153.0 368.5L154.5 368.6L156.0 368.6L157.5 368.5L159.0 368.4L160.5 368.1L162.0 367.7L163.5 367.4L165.0 366.9L166.5 366.5L168.0 366.1L169.5 365.7L171.0 365.3L172.5 364.8L174.0 364.4L175.5 363.9L177.0 363.4L178.5 362.8L180.0 362.3L181.5 361.7L183.0 361.1L184.5 360.4L186.0 359.7L187.5 358.9L189.0 358.2L190.5 357.4L192.0 356.6L193.5 355.8L195.0 354.9L196.5 354.1L198.0 353.2L199.5 352.6L201.0 352.1L202.5 351.8L204.0 351.8L205.5 351.9L207.0 352.1L208.5 352.3L210.0 352.5L211.5 352.7L213.0 352.7L214.5 352.6L216.0 352.3L217.5 352.0L219.0 351.5L220.5 351.0L222.0 350.5L223.5 350.0L225.0 349.4L226.5 348.8L228.0 348.2L229.5 347.6L231.0 347.0L232.5 346.4L234.0 346.0L235.5 345.6L237.0 345.3L238.5 344.9L240.0 344.6L241.5 344.3L243.0 344.0L244.5 343.7L246.0 343.4L247.5 343.0L249.0 342.7L250.5 342.3L252.0 341.9L253.5 341.4L255.0 340.9L256.5 340.3L258.0 339.7L259.5 339.0L261.0 338.3L262.5 337.5L264.0 336.7L265.5 335.8L267.0 334.9L268.5 333.9L270.0 332.7L271.5 331.5L273.0 330.2L274.5 328.7L276.0 327.1L277.5 325.3L279.0 323.3L280.5 321.1L282.0 318.9L283.5 316.5L285.0 314.1L286.5 311.5L288.0 308.9L289.5 306.2L291.0 303.5L292.5 300.8L294.0 297.9L295.5 294.8L297.0 291.1L298.5 286.8L300.0 282.3L301.5 277.6L303.0 272.8L304.5 267.9L306.0 263.0L307.5 258.0L309.0 253.0L310.5 247.9L312.0 242.8L313.5 237.6L315.0 232.2L316.5 226.6L318.0 220.8L319.5 214.9L321.0 208.9L322.5 202.7L324.0 196.6L325.5 190.4L327.0 184.4L328.5 178.5L330.0 172.7L331.5 167.1L333.0 161.6L334.5 155.9L336.0 149.9L337.5 143.7L339.0 137.6L340.5 131.8L342.0 126.6L343.5 121.9L345.0 117.6L346.5 113.8L348.0 110.3L349.5 107.3L351.0 104.6L352.5 102.2L354.0 100.2L355.5 98.4L357.0 96.8L358.5 95.4L360.0 94.2L361.5 93.1L363.0 92.2L364.5 91.3L366.0 90.5L367.5 89.8L369.0 89.1L370.5 88.5L372.0 87.9L373.5 87.4L375.0 87.0L376.5 86.7L378.0 86.6L379.5 86.6L381.0 86.9L382.5 87.6L384.0 88.7L385.5 90.2L387.0 92.0L388.5 93.9L390.0 96.0L391.5 98.4L393.0 101.1L394.5 104.1L396.0 107.5L397.5 111.4L399.0 115.5L400.5 119.6L402.0 123.8L403.5 128.0L405.0 132.5L406.5 137.2L408.0 142.2L409.5 147.5L411.0 152.8L412.5 157.9L414.0 162.9L415.5 167.6L417.0 172.2L418.5 176.7L420.0 181.0L421.5 185.1L423.0 189.2L424.5 193.1L426.0 196.8L427.5 200.4L429.0 203.9L430.5 207.3L432.0 210.7L433.5 214.1L435.0 217.5L436.5 220.9L438.0 224.4L439.5 227.8L441.0 231.2L442.5 234.6L444.0 238.1L445.5 241.6L447.0 245.2L448.5 248.9L450.0 252.7L451.5 256.3L453.0 259.9L454.5 263.5L456.0 267.2L457.5 270.8L459.0 274.3L460.5 277.5L462.0 280.5L463.5 283.2L465.0 285.8L466.5 288.3L468.0 290.7L469.5 293.0L471.0 295.1L472.5 297.1L474.0 299.2L475.5 301.1L477.0 302.9L478.5 304.5L480.0 306.0L481.5 307.5L483.0 308.8L484.5 310.1L486.0 311.3L487.5 312.4L489.0 313.4L490.5 314.1L492.0 314.7L493.5 315.2L495.0 315.3L496.5 315.3L498.0 315.1L499.5 314.7L501.0 314.2L502.5 313.5L504.0 312.8L505.5 312.2L507.0 311.6L508.5 310.9L510.0 310.2L511.5 309.4L513.0 308.7L514.5 307.9L516.0 307.1L517.5 306.3L519.0 305.6L520.5 304.9L522.0 304.1L523.5 303.3L525.0 302.5L526.5 301.8L528.0 301.2L529.5 300.8L531.0 300.6L532.5 300.6L534.0 300.6L535.5 300.6L537.0 300.6L538.5 300.6L540.0 300.8L541.5 301.2L543.0 301.7L544.5 302.1L546.0 302.2L547.5 302.0L549.0 301.7L550.5 301.3L552.0 301.0L553.5 300.7L555.0 300.5L556.5 300.4L558.0 300.4L559.5 300.3L561.0 300.3L562.5 300.3L564.0 300.2L565.5 300.2L567.0 300.1L568.5 300.1L570.0 300.0L571.5 299.8L573.0 299.4L574.5 298.8L576.0 297.7L577.5 296.4L579.0 295.1L580.5 293.8L582.0 292.8L583.5 292.0L585.0 291.3L586.5 290.7L588.0 290.2L589.5 289.7L591.0 289.2L592.5 288.8L594.0 288.3L595.5 287.8L597.0 287.3L598.5 286.9L600.0 286.4L601.5 285.9L603.0 285.5L604.5 285.1L606.0 284.7L607.5 284.4L609.0 284.1L610.5 283.8L612.0 283.5L613.5 283.3L615.0 283.1L616.5 282.8L618.0 282.6L619.5 282.5L621.0 282.3L622.5 282.2L624.0 282.1L625.5 282.2L627.0 282.5L628.5 282.8L630.0 283.3L631.5 283.8L633.0 284.4L634.5 285.0L636.0 285.7L637.5 286.3L639.0 286.9L640.5 287.3L642.0 287.7L643.5 287.9L645.0 287.9L646.5 287.7L648.0 287.4L649.5 287.0L651.0 286.7L652.5 286.5L654.0 286.4L655.5 286.4L657.0 286.6L658.5 286.8L660.0 287.0L659.5 287.1" stroke="#4bacc6" stroke-width="4.0"/>
<path d="M51.0 378.7L52.5 378.7L54.0 378.7L55.5 378.7L57.0 378.6L58.5 378.6L60.0 378.6L61.5 378.6L63.0 378.6L64.5 378.6L66.0 378.5L67.5 378.5L69.0 378.5L70.5 378.5L72.0 378.4L73.5 378.4L75.0 378.4L76.5 378.4L78.0 378.3L79.5 378.3L81.0 378.3L82.5 378.3L84.0 378.2L85.5 378.2L87.0 378.1L88.5 378.1L90.0 378.1L91.5 378.0L93.0 378.0L94.5 377.9L96.0 377.9L97.5 377.9L99.0 377.8L100.5 377.8L102.0 377.7L103.5 377.7L105.0 377.6L106.5 377.6L108.0 377.5L109.5 377.5L111.0 377.4L112.5 377.3L114.0 377.3L115.5 377.2L117.0 377.0L118.5 376.8L120.0 376.5L121.5 376.0L123.0 375.4L124.5 374.7L126.0 374.0L127.5 373.2L129.0 372.3L130.5 371.6L132.0 370.8L133.5 370.1L135.0 369.5L136.5 369.1L138.0 368.8L139.5 368.6L141.0 368.5L142.5 368.4L144.0 368.3L145.5 368.3L147.0 368.3L148.5 368.4L150.0 368.4L151.5 368.6L153.0 368.7L154.5 368.7L156.0 368.8L157.5 368.7L159.0 368.5L160.5 368.3L162.0 367.9L163.5 367.5L165.0 367.1L166.5 366.7L168.0 366.3L169.5 365.9L171.0 365.4L172.5 365.0L174.0 364.5L175.5 364.0L177.0 363.5L178.5 363.0L180.0 362.4L181.5 361.9L183.0 361.2L184.5 360.6L186.0 359.8L187.5 359.1L189.0 358.3L190.5 357.5L192.0 356.7L193.5 355.9L195.0 355.1L196.5 354.2L198.0 353.4L199.5 352.7L201.0 352.2L202.5 352.0L204.0 351.9L205.5 352.1L207.0 352.3L208.5 352.5L210.0 352.7L211.5 352.9L213.0 352.9L214.5 352.8L216.0 352.5L217.5 352.2L219.0 351.7L220.5 351.2L222.0 350.7L223.5 350.2L225.0 349.6L226.5 349.0L228.0 348.4L229.5 347.8L231.0 347.2L232.5 346.6L234.0 346.1L235.5 345.7L237.0 345.4L238.5 345.0L240.0 344.7L241.5 344.3L243.0 344.0L244.5 343.7L246.0 343.4L247.5 343.1L249.0 342.7L250.5 342.3L252.0 341.9L253.5 341.5L255.0 341.0L256.5 340.4L258.0 339.8L259.5 339.1L261.0 338.4L262.5 337.6L264.0 336.8L265.5 335.9L267.0 334.9L268.5 333.9L270.0 332.8L271.5 331.6L273.0 330.3L274.5 328.8L276.0 327.2L277.5 325.4L279.0 323.4L280.5 321.2L282.0 319.0L283.5 316.6L285.0 314.2L286.5 311.6L288.0 309.0L289.5 306.3L291.0 303.6L292.5 300.9L294.0 298.1L295.5 294.9L297.0 291.2L298.5 287.0L300.0 282.4L301.5 277.8L303.0 273.2L304.5 268.5L306.0 263.8L307.5 259.1L309.0 254.3L310.5 249.4L312.0 244.4L313.5 239.3L315.0 234.1L316.5 228.6L318.0 223.0L319.5 217.2L321.0 211.4L322.5 205.5L324.0 199.5L325.5 193.6L327.0 187.7L328.5 181.8L330.0 176.1L331.5 170.5L333.0 164.8L334.5 159.1L336.0 153.0L337.5 146.8L339.0 140.7L340.5 135.0L342.0 129.8L343.5 125.2L345.0 121.0L346.5 117.2L348.0 113.8L349.5 110.8L351.0 108.2L352.5 105.9L354.0 103.9L355.5 102.1L357.0 100.5L358.5 99.2L360.0 98.0L361.5 96.9L363.0 95.9L364.5 95.0L366.0 94.2L367.5 93.5L369.0 92.8L370.5 92.2L372.0 91.6L373.5 91.1L375.0 90.7L376.5 90.4L378.0 90.3L379.5 90.3L381.0 90.7L382.5 91.3L384.0 92.4L385.5 94.0L387.0 95.8L388.5 97.8L390.0 99.9L391.5 102.4L393.0 105.1L394.5 108.2L396.0 111.7L397.5 115.6L399.0 119.6L400.5 123.7L402.0 127.8L403.5 132.1L405.0 136.5L406.5 141.3L408.0 146.3L409.5 151.6L411.0 157.0L412.5 162.2L414.0 167.1L415.5 171.8L417.0 176.4L418.5 180.8L420.0 185.0L421.5 189.1L423.0 193.0L424.5 196.8L426.0 200.4L427.5 204.0L429.0 207.4L430.5 210.8L432.0 214.1L433.5 217.4L435.0 220.7L436.5 224.0L438.0 227.3L439.5 230.6L441.0 233.8L442.5 237.1L444.0 240.5L445.5 243.9L447.0 247.3L448.5 250.9L450.0 254.4L451.5 257.9L453.0 261.4L454.5 264.9L456.0 268.4L457.5 271.9L459.0 275.1L460.5 278.2L462.0 281.1L463.5 283.7L465.0 286.3L466.5 288.8L468.0 291.1L469.5 293.3L471.0 295.3L472.5 297.2L474.0 299.2L475.5 301.0L477.0 302.8L478.5 304.4L480.0 305.9L481.5 307.3L483.0 308.6L484.5 309.8L486.0 311.0L487.5 312.1L489.0 313.0L490.5 313.7L492.0 314.2L493.5 314.7L495.0 314.8L496.5 314.7L498.0 314.6L499.5 314.2L501.0 313.6L502.5 312.9L504.0 312.3L505.5 311.6L507.0 311.0L508.5 310.4L510.0 309.6L511.5 308.9L513.0 308.1L514.5 307.3L516.0 306.6L517.5 305.8L519.0 305.1L520.5 304.3L522.0 303.6L523.5 302.8L525.0 302.0L526.5 301.3L528.0 300.7L529.5 300.3L531.0 300.1L532.5 300.1L534.0 300.1L535.5 300.1L537.0 300.1L538.5 300.1L540.0 300.3L541.5 300.7L543.0 301.2L544.5 301.6L546.0 301.7L547.5 301.5L549.0 301.2L550.5 300.8L552.0 300.5L553.5 300.2L555.0 300.0L556.5 299.9L558.0 299.9L559.5 299.8L561.0 299.8L562.5 299.8L564.0 299.7L565.5 299.7L567.0 299.6L568.5 299.6L570.0 299.5L571.5 299.3L573.0 298.9L574.5 298.3L576.0 297.2L577.5 296.0L579.0 294.6L580.5 293.4L582.0 292.4L583.5 291.6L585.0 290.9L586.5 290.3L588.0 289.8L589.5 289.3L591.0 288.8L592.5 288.4L594.0 287.9L595.5 287.5L597.0 287.0L598.5 286.5L600.0 286.0L601.5 285.5L603.0 285.1L604.5 284.7L606.0 284.3L607.5 284.0L609.0 283.7L610.5 283.4L612.0 283.2L613.5 282.9L615.0 282.7L616.5 282.5L618.0 282.3L619.5 282.1L621.0 281.9L622.5 281.8L624.0 281.8L625.5 281.8L627.0 282.0L628.5 282.4L630.0 282.8L631.5 283.4L633.0 283.9L634.5 284.5L636.0 285.2L637.5 285.8L639.0 286.4L640.5 286.8L642.0 287.2L643.5 287.4L645.0 287.4L646.5 287.2L648.0 286.9L649.5 286.5L651.0 286.2L652.5 285.9L654.0 285.8L655.5 285.9L657.0 286.0L658.5 286.2L660.0 286.4L659.5 286.5" stroke="#f79646" stroke-width="4.0"/>
<path d="M51.0 378.7L52.5 378.7L54.0 378.7L55.5 378.7L57.0 378.7L58.5 378.6L60.0 378.6L61.5 378.6L63.0 378.6L64.5 378.6L66.0 378.5L67.5 378.5L69.0 378.5L70.5 378.4L72.0 378.4L73.5 378.4L75.0 378.4L76.5 378.3L78.0 378.3L79.5 378.3L81.0 378.2L82.5 378.2L84.0 378.1L85.5 378.1L87.0 378.1L88.5 378.0L90.0 378.0L91.5 377.9L93.0 377.9L94.5 377.8L96.0 377.8L97.5 377.7L99.0 377.6L100.5 377.6L102.0 377.5L103.5 377.5L105.0 377.4L106.5 377.4L108.0 377.3L109.5 377.2L111.0 377.2L112.5 377.1L114.0 377.0L115.5 376.9L117.0 376.8L118.5 376.6L120.0 376.3L121.5 375.8L123.0 375.2L124.5 374.6L126.0 373.8L127.5 373.0L129.0 372.2L130.5 371.5L132.0 370.7L133.5 370.0L135.0 369.4L136.5 369.0L138.0 368.7L139.5 368.6L141.0 368.4L142.5 368.3L144.0 368.3L145.5 368.2L147.0 368.2L148.5 368.3L150.0 368.4L151.5 368.5L153.0 368.6L154.5 368.7L156.0 368.7L157.5 368.6L159.0 368.5L160.5 368.2L162.0 367.9L163.5 367.5L165.0 367.1L166.5 366.6L168.0 366.2L169.5 365.8L171.0 365.4L172.5 364.9L174.0 364.5L175.5 364.0L177.0 363.5L178.5 363.0L180.0 362.4L181.5 361.8L183.0 361.2L184.5 360.5L186.0 359.8L187.5 359.0L189.0 358.2L190.5 357.5L192.0 356.7L193.5 355.9L195.0 355.0L196.5 354.2L198.0 353.3L199.5 352.7L201.0 352.2L202.5 351.9L204.0 351.9L205.5 352.0L207.0 352.2L208.5 352.4L210.0 352.7L211.5 352.8L213.0 352.8L214.5 352.7L216.0 352.5L217.5 352.1L219.0 351.7L220.5 351.2L222.0 350.7L223.5 350.1L225.0 349.6L226.5 349.0L228.0 348.3L229.5 347.7L231.0 347.1L232.5 346.6L234.0 346.1L235.5 345.7L237.0 345.3L238.5 345.0L240.0 344.6L241.5 344.3L243.0 344.0L244.5 343.7L246.0 343.4L247.5 343.0L249.0 342.7L250.5 342.3L252.0 341.9L253.5 341.5L255.0 340.9L256.5 340.4L258.0 339.7L259.5 339.1L261.0 338.3L262.5 337.6L264.0 336.7L265.5 335.9L267.0 334.9L268.5 333.9L270.0 332.8L271.5 331.6L273.0 330.2L274.5 328.8L276.0 327.1L277.5 325.3L279.0 323.3L280.5 321.2L282.0 318.9L283.5 316.6L285.0 314.1L286.5 311.6L288.0 308.9L289.5 306.2L291.0 303.6L292.5 300.9L294.0 298.0L295.5 294.8L297.0 291.1L298.5 286.9L300.0 282.4L301.5 277.7L303.0 273.0L304.5 268.3L306.0 263.5L307.5 258.7L309.0 253.8L310.5 248.9L312.0 243.9L313.5 238.7L315.0 233.4L316.5 227.9L318.0 222.3L319.5 216.5L321.0 210.5L322.5 204.5L324.0 198.5L325.5 192.5L327.0 186.6L328.5 180.7L330.0 175.0L331.5 169.4L333.0 163.7L334.5 158.0L336.0 152.0L337.5 145.8L339.0 139.7L340.5 134.0L342.0 128.8L343.5 124.1L345.0 119.9L346.5 116.0L348.0 112.6L349.5 109.6L351.0 107.0L352.5 104.7L354.0 102.6L355.5 100.8L357.0 99.3L358.5 97.9L360.0 96.7L361.5 95.6L363.0 94.7L364.5 93.8L366.0 93.0L367.5 92.2L369.0 91.6L370.5 91.0L372.0 90.4L373.5 89.9L375.0 89.4L376.5 89.2L378.0 89.0L379.5 89.1L381.0 89.4L382.5 90.1L384.0 91.2L385.5 92.7L387.0 94.5L388.5 96.5L390.0 98.6L391.5 101.0L393.0 103.8L394.5 106.9L396.0 110.3L397.5 114.2L399.0 118.2L400.5 122.3L402.0 126.5L403.5 130.7L405.0 135.2L406.5 139.9L408.0 145.0L409.5 150.2L411.0 155.6L412.5 160.7L414.0 165.7L415.5 170.4L417.0 175.0L418.5 179.4L420.0 183.7L421.5 187.8L423.0 191.7L424.5 195.6L426.0 199.2L427.5 202.8L429.0 206.2L430.5 209.6L432.0 213.0L433.5 216.3L435.0 219.7L436.5 223.0L438.0 226.3L439.5 229.6L441.0 233.0L442.5 236.3L444.0 239.7L445.5 243.1L447.0 246.6L448.5 250.2L450.0 253.8L451.5 257.4L453.0 260.9L454.5 264.5L456.0 268.0L457.5 271.5L459.0 274.8L460.5 278.0L462.0 280.9L463.5 283.6L465.0 286.1L466.5 288.6L468.0 291.0L469.5 293.2L471.0 295.2L472.5 297.2L474.0 299.3L475.5 301.2L477.0 303.0L478.5 304.6L480.0 306.2L481.5 307.7L483.0 309.0L484.5 310.3L486.0 311.6L487.5 312.7L489.0 313.7L490.5 314.5L492.0 315.1L493.5 315.6L495.0 315.7L496.5 315.7L498.0 315.5L499.5 315.1L501.0 314.6L502.5 313.9L504.0 313.2L505.5 312.6L507.0 312.0L508.5 311.3L510.0 310.6L511.5 309.8L513.0 309.1L514.5 308.3L516.0 307.5L517.5 306.8L519.0 306.0L520.5 305.3L522.0 304.5L523.5 303.7L525.0 302.9L526.5 302.2L528.0 301.6L529.5 301.3L531.0 301.1L532.5 301.0L534.0 301.0L535.5 301.0L537.0 301.0L538.5 301.1L540.0 301.3L541.5 301.7L543.0 302.2L544.5 302.5L546.0 302.6L547.5 302.4L549.0 302.1L550.5 301.8L552.0 301.4L553.5 301.1L555.0 301.0L556.5 300.9L558.0 300.8L559.5 300.7L561.0 300.7L562.5 300.7L564.0 300.7L565.5 300.6L567.0 300.6L568.5 300.5L570.0 300.4L571.5 300.2L573.0 299.9L574.5 299.2L576.0 298.2L577.5 296.9L579.0 295.5L580.5 294.3L582.0 293.3L583.5 292.5L585.0 291.8L586.5 291.2L588.0 290.7L589.5 290.2L591.0 289.7L592.5 289.3L594.0 288.8L595.5 288.3L597.0 287.9L598.5 287.4L600.0 286.9L601.5 286.4L603.0 286.0L604.5 285.6L606.0 285.2L607.5 284.9L609.0 284.6L610.5 284.3L612.0 284.0L613.5 283.8L615.0 283.6L616.5 283.4L618.0 283.2L619.5 283.0L621.0 282.8L622.5 282.7L624.0 282.6L625.5 282.7L627.0 282.9L628.5 283.3L630.0 283.8L631.5 284.3L633.0 284.8L634.5 285.5L636.0 286.1L637.5 286.7L639.0 287.3L640.5 287.8L642.0 288.1L643.5 288.3L645.0 288.3L646.5 288.1L648.0 287.8L649.5 287.4L651.0 287.1L652.5 286.9L654.0 286.8L655.5 286.8L657.0 287.0L658.5 287.2L660.0 287.3L659.5 287.4" stroke="#8064a2" stroke-width="4.0"/>
<path d="M51.0 378.7L52.5 378.6L54.0 378.6L55.5 378.6L57.0 378.6L58.5 378.6L60.0 378.6L61.5 378.6L63.0 378.6L64.5 378.6L66.0 378.5L67.5 378.5L69.0 378.5L70.5 378.5L72.0 378.5L73.5 378.5L75.0 378.4L76.5 378.4L78.0 378.4L79.5 378.4L81.0 378.4L82.5 378.3L84.0 378.3L85.5 378.3L87.0 378.2L88.5 378.2L90.0 378.2L91.5 378.2L93.0 378.1L94.5 378.1L96.0 378.0L97.5 378.0L99.0 378.0L100.5 377.9L102.0 377.9L103.5 377.9L105.0 377.8L106.5 377.8L108.0 377.7L109.5 377.7L111.0 377.6L112.5 377.6L114.0 377.5L115.5 377.4L117.0 377.3L118.5 377.1L120.0 376.7L121.5 376.2L123.0 375.6L124.5 374.9L126.0 374.1L127.5 373.3L129.0 372.5L130.5 371.7L132.0 370.9L133.5 370.2L135.0 369.6L136.5 369.2L138.0 368.9L139.5 368.7L141.0 368.6L142.5 368.5L144.0 368.4L145.5 368.4L147.0 368.4L148.5 368.4L150.0 368.5L151.5 368.6L153.0 368.7L154.5 368.8L156.0 368.8L157.5 368.8L159.0 368.6L160.5 368.3L162.0 368.0L163.5 367.6L165.0 367.2L166.5 366.8L168.0 366.3L169.5 365.9L171.0 365.5L172.5 365.0L174.0 364.6L175.5 364.1L177.0 363.6L178.5 363.1L180.0 362.5L181.5 361.9L183.0 361.3L184.5 360.6L186.0 359.9L187.5 359.1L189.0 358.3L190.5 357.6L192.0 356.8L193.5 356.0L195.0 355.1L196.5 354.3L198.0 353.4L199.5 352.8L201.0 352.3L202.5 352.0L204.0 352.0L205.5 352.1L207.0 352.3L208.5 352.6L210.0 352.8L211.5 352.9L213.0 353.0L214.5 352.9L216.0 352.6L217.5 352.2L219.0 351.8L220.5 351.3L222.0 350.8L223.5 350.2L225.0 349.7L226.5 349.1L228.0 348.4L229.5 347.8L231.0 347.2L232.5 346.7L234.0 346.2L235.5 345.8L237.0 345.4L238.5 345.0L240.0 344.7L241.5 344.3L243.0 344.0L244.5 343.7L246.0 343.4L247.5 343.1L249.0 342.7L250.5 342.4L252.0 342.0L253.5 341.5L255.0 341.0L256.5 340.4L258.0 339.8L259.5 339.1L261.0 338.4L262.5 337.6L264.0 336.8L265.5 335.9L267.0 335.0L268.5 333.9L270.0 332.8L271.5 331.6L273.0 330.3L274.5 328.8L276.0 327.2L277.5 325.4L279.0 323.4L280.5 321.2L282.0 319.0L283.5 316.6L285.0 314.2L286.5 311.6L288.0 309.0L289.5 306.3L291.0 303.6L292.5 300.9L294.0 298.1L295.5 294.9L297.0 291.2L298.5 287.0L300.0 282.5L301.5 277.9L303.0 273.3L304.5 268.7L306.0 264.1L307.5 259.4L309.0 254.7L310.5 249.9L312.0 245.0L313.5 239.9L315.0 234.7L316.5 229.3L318.0 223.7L319.5 218.0L321.0 212.2L322.5 206.4L324.0 200.5L325.5 194.6L327.0 188.7L328.5 183.0L330.0 177.2L331.5 171.6L333.0 165.9L334.5 160.1L336.0 154.1L337.5 147.9L339.0 141.8L340.5 136.1L342.0 130.9L343.5 126.3L345.0 122.1L346.5 118.3L348.0 115.0L349.5 112.0L351.0 109.4L352.5 107.1L354.0 105.1L355.5 103.3L357.0 101.8L358.5 100.4L360.0 99.2L361.5 98.1L363.0 97.2L364.5 96.3L366.0 95.4L367.5 94.7L369.0 94.0L370.5 93.4L372.0 92.8L373.5 92.3L375.0 91.9L376.5 91.6L378.0 91.5L379.5 91.6L381.0 91.9L382.5 92.6L384.0 93.7L385.5 95.2L387.0 97.1L388.5 99.1L390.0 101.3L391.5 103.7L393.0 106.5L394.5 109.6L396.0 113.1L397.5 117.0L399.0 121.0L400.5 125.1L402.0 129.2L403.5 133.4L405.0 137.9L406.5 142.6L408.0 147.7L409.5 153.0L411.0 158.4L412.5 163.6L414.0 168.5L415.5 173.3L417.0 177.8L418.5 182.2L420.0 186.4L421.5 190.4L423.0 194.3L424.5 198.1L426.0 201.7L427.5 205.2L429.0 208.6L430.5 211.9L432.0 215.2L433.5 218.5L435.0 221.8L436.5 225.0L438.0 228.3L439.5 231.5L441.0 234.7L442.5 238.0L444.0 241.3L445.5 244.6L447.0 248.0L448.5 251.5L450.0 255.0L451.5 258.4L453.0 261.9L454.5 265.4L456.0 268.9L457.5 272.2L459.0 275.4L460.5 278.4L462.0 281.3L463.5 283.9L465.0 286.5L466.5 288.9L468.0 291.2L469.5 293.4L471.0 295.4L472.5 297.3L474.0 299.3L475.5 301.3L477.0 303.1L478.5 304.8L480.0 306.4L481.5 307.9L483.0 309.3L484.5 310.6L486.0 311.9L487.5 313.0L489.0 314.1L490.5 314.9L492.0 315.5L493.5 316.0L495.0 316.1L496.5 316.1L498.0 315.9L499.5 315.5L501.0 314.9L502.5 314.3L504.0 313.6L505.5 313.0L507.0 312.4L508.5 311.7L510.0 311.0L511.5 310.2L513.0 309.5L514.5 308.7L516.0 307.9L517.5 307.2L519.0 306.4L520.5 305.7L522.0 304.9L523.5 304.1L525.0 303.4L526.5 302.6L528.0 302.1L529.5 301.7L531.0 301.5L532.5 301.4L534.0 301.4L535.5 301.4L537.0 301.4L538.5 301.5L540.0 301.7L541.5 302.1L543.0 302.6L544.5 302.9L546.0 303.0L547.5 302.9L549.0 302.5L550.5 302.2L552.0 301.8L553.5 301.6L555.0 301.4L556.5 301.3L558.0 301.2L559.5 301.2L561.0 301.1L562.5 301.1L564.0 301.1L565.5 301.0L567.0 301.0L568.5 300.9L570.0 300.8L571.5 300.7L573.0 300.3L574.5 299.6L576.0 298.6L577.5 297.3L579.0 296.0L580.5 294.8L582.0 293.8L583.5 293.0L585.0 292.3L586.5 291.7L588.0 291.2L589.5 290.7L591.0 290.2L592.5 289.8L594.0 289.3L595.5 288.8L597.0 288.4L598.5 287.9L600.0 287.4L601.5 286.9L603.0 286.5L604.5 286.1L606.0 285.7L607.5 285.4L609.0 285.1L610.5 284.8L612.0 284.6L613.5 284.3L615.0 284.1L616.5 283.9L618.0 283.7L619.5 283.5L621.0 283.3L622.5 283.2L624.0 283.1L625.5 283.2L627.0 283.4L628.5 283.8L630.0 284.2L631.5 284.7L633.0 285.3L634.5 285.9L636.0 286.5L637.5 287.1L639.0 287.7L640.5 288.2L642.0 288.5L643.5 288.8L645.0 288.8L646.5 288.5L648.0 288.2L649.5 287.8L651.0 287.5L652.5 287.3L654.0 287.2L655.5 287.2L657.0 287.3L658.5 287.5L660.0 287.7L659.5 287.8" stroke="#c9a3b0" stroke-width="4.2"/>
<path d="M51.0 378.6L52.5 378.6L54.0 378.6L55.5 378.6L57.0 378.6L58.5 378.6L60.0 378.6L61.5 378.6L63.0 378.6L64.5 378.6L66.0 378.5L67.5 378.5L69.0 378.5L70.5 378.5L72.0 378.5L73.5 378.5L75.0 378.5L76.5 378.5L78.0 378.4L79.5 378.4L81.0 378.4L82.5 378.4L84.0 378.4L85.5 378.3L87.0 378.3L88.5 378.3L90.0 378.3L91.5 378.2L93.0 378.2L94.5 378.2L96.0 378.2L97.5 378.1L99.0 378.1L100.5 378.1L102.0 378.0L103.5 378.0L105.0 378.0L106.5 377.9L108.0 377.9L109.5 377.8L111.0 377.8L112.5 377.7L114.0 377.7L115.5 377.6L117.0 377.4L118.5 377.2L120.0 376.9L121.5 376.4L123.0 375.8L124.5 375.0L126.0 374.2L127.5 373.4L129.0 372.5L130.5 371.7L132.0 371.0L133.5 370.3L135.0 369.7L136.5 369.2L138.0 368.9L139.5 368.7L141.0 368.6L142.5 368.5L144.0 368.4L145.5 368.4L147.0 368.4L148.5 368.5L150.0 368.5L151.5 368.7L153.0 368.8L154.5 368.8L156.0 368.9L157.5 368.8L159.0 368.6L160.5 368.4L162.0 368.0L163.5 367.6L165.0 367.2L166.5 366.8L168.0 366.4L169.5 366.0L171.0 365.5L172.5 365.1L174.0 364.6L175.5 364.1L177.0 363.6L178.5 363.1L180.0 362.5L181.5 361.9L183.0 361.3L184.5 360.6L186.0 359.9L187.5 359.1L189.0 358.4L190.5 357.6L192.0 356.8L193.5 356.0L195.0 355.1L196.5 354.3L198.0 353.5L199.5 352.8L201.0 352.3L202.5 352.1L204.0 352.0L205.5 352.2L207.0 352.4L208.5 352.6L210.0 352.8L211.5 353.0L213.0 353.0L214.5 352.9L216.0 352.7L217.5 352.3L219.0 351.8L220.5 351.3L222.0 350.8L223.5 350.3L225.0 349.7L226.5 349.1L228.0 348.5L229.5 347.9L231.0 347.3L232.5 346.7L234.0 346.2L235.5 345.8L237.0 345.4L238.5 345.0L240.0 344.7L241.5 344.4L243.0 344.0L244.5 343.7L246.0 343.4L247.5 343.1L249.0 342.7L250.5 342.4L252.0 342.0L253.5 341.5L255.0 341.0L256.5 340.4L258.0 339.8L259.5 339.1L261.0 338.4L262.5 337.6L264.0 336.8L265.5 335.9L267.0 335.0L268.5 334.0L270.0 332.9L271.5 331.6L273.0 330.3L274.5 328.8L276.0 327.2L277.5 325.4L279.0 323.4L280.5 321.3L282.0 319.0L283.5 316.7L285.0 314.2L286.5 311.7L288.0 309.0L289.5 306.4L291.0 303.7L292.5 301.0L294.0 298.1L295.5 294.9L297.0 291.2L298.5 287.0L300.0 282.5L301.5 277.9L303.0 273.4L304.5 268.9L306.0 264.3L307.5 259.7L309.0 255.0L310.5 250.3L312.0 245.4L313.5 240.4L315.0 235.2L316.5 229.8L318.0 224.2L319.5 218.6L321.0 212.8L322.5 207.0L324.0 201.2L325.5 195.4L327.0 189.6L328.5 183.8L330.0 178.1L331.5 172.4L333.0 166.7L334.5 160.9L336.0 154.9L337.5 148.7L339.0 142.6L340.5 136.9L342.0 131.7L343.5 127.1L345.0 122.9L346.5 119.2L348.0 115.9L349.5 112.9L351.0 110.3L352.5 108.0L354.0 106.0L355.5 104.2L357.0 102.7L358.5 101.4L360.0 100.2L361.5 99.1L363.0 98.1L364.5 97.2L366.0 96.4L367.5 95.6L369.0 95.0L370.5 94.3L372.0 93.7L373.5 93.2L375.0 92.8L376.5 92.5L378.0 92.4L379.5 92.5L381.0 92.8L382.5 93.5L384.0 94.7L385.5 96.3L387.0 98.1L388.5 100.2L390.0 102.4L391.5 104.9L393.0 107.8L394.5 111.0L396.0 114.5L397.5 118.4L399.0 122.4L400.5 126.4L402.0 130.6L403.5 134.8L405.0 139.2L406.5 144.0L408.0 149.1L409.5 154.4L411.0 159.8L412.5 165.0L414.0 169.9L415.5 174.7L417.0 179.2L418.5 183.6L420.0 187.7L421.5 191.8L423.0 195.6L424.5 199.3L426.0 202.9L427.5 206.4L429.0 209.7L430.5 213.1L432.0 216.4L433.5 219.7L435.0 222.9L436.5 226.1L438.0 229.2L439.5 232.4L441.0 235.6L442.5 238.8L444.0 242.1L445.5 245.4L447.0 248.7L448.5 252.1L450.0 255.5L451.5 259.0L453.0 262.4L454.5 265.9L456.0 269.3L457.5 272.6L459.0 275.7L460.5 278.7L462.0 281.5L463.5 284.1L465.0 286.6L466.5 289.1L468.0 291.4L469.5 293.5L471.0 295.4L472.5 297.3L474.0 299.4L475.5 301.3L477.0 303.1L478.5 304.8L480.0 306.4L481.5 307.9L483.0 309.3L484.5 310.6L486.0 311.9L487.5 313.1L489.0 314.1L490.5 314.9L492.0 315.5L493.5 316.0L495.0 316.2L496.5 316.1L498.0 315.9L499.5 315.6L501.0 315.0L502.5 314.3L504.0 313.6L505.5 313.0L507.0 312.4L508.5 311.7L510.0 311.0L511.5 310.3L513.0 309.5L514.5 308.7L516.0 308.0L517.5 307.2L519.0 306.5L520.5 305.7L522.0 305.0L523.5 304.2L525.0 303.4L526.5 302.7L528.0 302.1L529.5 301.7L531.0 301.5L532.5 301.5L534.0 301.5L535.5 301.5L537.0 301.5L538.5 301.5L540.0 301.7L541.5 302.1L543.0 302.6L544.5 303.0L546.0 303.1L547.5 302.9L549.0 302.6L550.5 302.2L552.0 301.9L553.5 301.6L555.0 301.4L556.5 301.3L558.0 301.3L559.5 301.2L561.0 301.2L562.5 301.2L564.0 301.1L565.5 301.1L567.0 301.0L568.5 301.0L570.0 300.9L571.5 300.7L573.0 300.3L574.5 299.7L576.0 298.7L577.5 297.4L579.0 296.1L580.5 294.8L582.0 293.9L583.5 293.1L585.0 292.4L586.5 291.8L588.0 291.3L589.5 290.8L591.0 290.3L592.5 289.9L594.0 289.4L595.5 288.9L597.0 288.4L598.5 288.0L600.0 287.5L601.5 287.0L603.0 286.6L604.5 286.2L606.0 285.8L607.5 285.5L609.0 285.2L610.5 284.9L612.0 284.7L613.5 284.4L615.0 284.2L616.5 284.0L618.0 283.8L619.5 283.6L621.0 283.4L622.5 283.3L624.0 283.2L625.5 283.3L627.0 283.5L628.5 283.8L630.0 284.3L631.5 284.8L633.0 285.4L634.5 286.0L636.0 286.6L637.5 287.2L639.0 287.7L640.5 288.2L642.0 288.6L643.5 288.8L645.0 288.8L646.5 288.6L648.0 288.3L649.5 287.9L651.0 287.5L652.5 287.3L654.0 287.2L655.5 287.2L657.0 287.4L658.5 287.5L660.0 287.7L659.5 287.8" stroke="#a8a0b4" stroke-width="4.2"/>
<path d="M51.0 378.6L52.5 378.6L54.0 378.6L55.5 378.6L57.0 378.6L58.5 378.6L60.0 378.6L61.5 378.6L63.0 378.6L64.5 378.6L66.0 378.6L67.5 378.5L69.0 378.5L70.5 378.5L72.0 378.5L73.5 378.5L75.0 378.5L76.5 378.5L78.0 378.5L79.5 378.5L81.0 378.5L82.5 378.4L84.0 378.4L85.5 378.4L87.0 378.4L88.5 378.4L90.0 378.4L91.5 378.3L93.0 378.3L94.5 378.3L96.0 378.3L97.5 378.2L99.0 378.2L100.5 378.2L102.0 378.2L103.5 378.1L105.0 378.1L106.5 378.1L108.0 378.0L109.5 378.0L111.0 377.9L112.5 377.9L114.0 377.8L115.5 377.7L117.0 377.6L118.5 377.4L120.0 377.0L121.5 376.5L123.0 375.9L124.5 375.2L126.0 374.4L127.5 373.5L129.0 372.6L130.5 371.8L132.0 371.0L133.5 370.3L135.0 369.7L136.5 369.3L138.0 369.0L139.5 368.8L141.0 368.7L142.5 368.6L144.0 368.5L145.5 368.4L147.0 368.4L148.5 368.5L150.0 368.6L151.5 368.7L153.0 368.8L154.5 368.9L156.0 368.9L157.5 368.9L159.0 368.7L160.5 368.4L162.0 368.1L163.5 367.7L165.0 367.3L166.5 366.8L168.0 366.4L169.5 366.0L171.0 365.6L172.5 365.1L174.0 364.7L175.5 364.2L177.0 363.7L178.5 363.1L180.0 362.6L181.5 362.0L183.0 361.4L184.5 360.7L186.0 359.9L187.5 359.2L189.0 358.4L190.5 357.6L192.0 356.8L193.5 356.0L195.0 355.2L196.5 354.3L198.0 353.5L199.5 352.8L201.0 352.4L202.5 352.1L204.0 352.1L205.5 352.2L207.0 352.4L208.5 352.7L210.0 352.9L211.5 353.0L213.0 353.1L214.5 353.0L216.0 352.7L217.5 352.3L219.0 351.9L220.5 351.4L222.0 350.9L223.5 350.3L225.0 349.8L226.5 349.2L228.0 348.5L229.5 347.9L231.0 347.3L232.5 346.8L234.0 346.3L235.5 345.8L237.0 345.4L238.5 345.1L240.0 344.7L241.5 344.4L243.0 344.0L244.5 343.7L246.0 343.4L247.5 343.1L249.0 342.8L250.5 342.4L252.0 342.0L253.5 341.5L255.0 341.0L256.5 340.4L258.0 339.8L259.5 339.1L261.0 338.4L262.5 337.6L264.0 336.8L265.5 335.9L267.0 335.0L268.5 334.0L270.0 332.9L271.5 331.7L273.0 330.3L274.5 328.9L276.0 327.2L277.5 325.4L279.0 323.4L280.5 321.3L282.0 319.0L283.5 316.7L285.0 314.2L286.5 311.7L288.0 309.1L289.5 306.4L291.0 303.7L292.5 301.0L294.0 298.2L295.5 295.0L297.0 291.3L298.5 287.1L300.0 282.6L301.5 278.0L303.0 273.5L304.5 269.0L306.0 264.5L307.5 259.9L309.0 255.3L310.5 250.6L312.0 245.8L313.5 240.8L315.0 235.7L316.5 230.3L318.0 224.8L319.5 219.2L321.0 213.5L322.5 207.7L324.0 201.9L325.5 196.2L327.0 190.4L328.5 184.6L330.0 178.9L331.5 173.2L333.0 167.5L334.5 161.7L336.0 155.7L337.5 149.5L339.0 143.4L340.5 137.7L342.0 132.5L343.5 127.9L345.0 123.8L346.5 120.1L348.0 116.7L349.5 113.8L351.0 111.2L352.5 108.9L354.0 106.9L355.5 105.2L357.0 103.6L358.5 102.3L360.0 101.1L361.5 100.0L363.0 99.0L364.5 98.1L366.0 97.3L367.5 96.6L369.0 95.9L370.5 95.2L372.0 94.7L373.5 94.1L375.0 93.7L376.5 93.4L378.0 93.3L379.5 93.4L381.0 93.8L382.5 94.5L384.0 95.7L385.5 97.3L387.0 99.2L388.5 101.3L390.0 103.6L391.5 106.2L393.0 109.0L394.5 112.3L396.0 115.9L397.5 119.8L399.0 123.8L400.5 127.8L402.0 131.9L403.5 136.1L405.0 140.6L406.5 145.3L408.0 150.4L409.5 155.8L411.0 161.2L412.5 166.4L414.0 171.3L415.5 176.1L417.0 180.6L418.5 184.9L420.0 189.1L421.5 193.1L423.0 196.9L424.5 200.6L426.0 204.1L427.5 207.6L429.0 210.9L430.5 214.2L432.0 217.5L433.5 220.8L435.0 224.0L436.5 227.1L438.0 230.2L439.5 233.3L441.0 236.4L442.5 239.6L444.0 242.9L445.5 246.1L447.0 249.4L448.5 252.8L450.0 256.1L451.5 259.5L453.0 262.9L454.5 266.3L456.0 269.7L457.5 272.9L459.0 276.0L460.5 278.9L462.0 281.7L463.5 284.3L465.0 286.8L466.5 289.2L468.0 291.5L469.5 293.6L471.0 295.5L472.5 297.2L474.0 298.8L475.5 300.3L477.0 301.6L478.5 302.9L480.0 304.1L481.5 305.1L483.0 306.1L484.5 307.0L486.0 307.8L487.5 308.6L489.0 309.1L490.5 309.5L492.0 309.6L493.5 309.7L495.0 309.7L496.5 309.6L498.0 309.5L499.5 309.1L501.0 308.5L502.5 307.8L504.0 307.2L505.5 306.5L507.0 305.9L508.5 305.3L510.0 304.6L511.5 303.8L513.0 303.0L514.5 302.3L516.0 301.5L517.5 300.8L519.0 300.0L520.5 299.3L522.0 298.5L523.5 297.7L525.0 297.0L526.5 296.2L528.0 295.7L529.5 295.3L531.0 295.1L532.5 295.0L534.0 295.0L535.5 295.0L537.0 295.0L538.5 295.1L540.0 295.3L541.5 295.7L543.0 296.2L544.5 296.5L546.0 296.6L547.5 296.4L549.0 296.1L550.5 295.8L552.0 295.4L553.5 295.2L555.0 295.0L556.5 294.9L558.0 294.8L559.5 294.8L561.0 294.7L562.5 294.7L564.0 294.7L565.5 294.6L567.0 294.6L568.5 294.5L570.0 294.4L571.5 294.3L573.0 293.9L574.5 293.2L576.0 292.2L577.5 291.0L579.0 289.6L580.5 288.4L582.0 287.4L583.5 286.6L585.0 286.0L586.5 285.4L588.0 284.8L589.5 284.4L591.0 283.9L592.5 283.5L594.0 283.0L595.5 282.5L597.0 282.0L598.5 281.5L600.0 281.1L601.5 280.6L603.0 280.2L604.5 279.8L606.0 279.4L607.5 279.1L609.0 278.8L610.5 278.5L612.0 278.3L613.5 278.0L615.0 277.8L616.5 277.6L618.0 277.4L619.5 277.2L621.0 277.0L622.5 276.9L624.0 276.8L625.5 276.9L627.0 277.1L628.5 277.4L630.0 277.9L631.5 278.4L633.0 278.9L634.5 279.5L636.0 280.1L637.5 280.7L639.0 281.3L640.5 281.8L642.0 282.1L643.5 282.3L645.0 282.3L646.5 282.1L648.0 281.8L649.5 281.4L651.0 281.1L652.5 280.8L654.0 280.7L655.5 280.7L657.0 280.9L658.5 281.1L660.0 281.2L659.5 281.3" stroke="#0000ff" stroke-width="4.5"/>
<path d="M60.0 834.8L61.5 834.2L63.0 833.3L64.5 832.4L66.0 831.5L67.5 830.7L69.0 829.8L70.5 828.8L72.0 827.6L73.5 826.3L75.0 825.0L76.5 823.7L78.0 822.4L79.5 821.1L81.0 819.7L82.5 818.4L84.0 817.0L85.5 815.5L87.0 813.9L88.5 812.1L90.0 810.3L91.5 808.4L93.0 806.6L94.5 804.9L96.0 803.2L97.5 801.6L99.0 800.0L100.5 798.4L102.0 796.9L103.5 795.5L105.0 794.2L106.5 792.9L108.0 791.9L109.5 790.9L111.0 790.1L112.5 789.5L114.0 789.1L115.5 788.7L117.0 788.6L118.5 788.6L120.0 788.7L121.5 789.1L123.0 789.7L124.5 790.6L126.0 791.7L127.5 793.0L129.0 794.3L130.5 795.6L132.0 797.1L133.5 798.5L135.0 800.0L136.5 801.5L138.0 803.1L139.5 804.8L141.0 806.6L142.5 808.4L144.0 810.2L145.5 812.1L147.0 813.8L148.5 815.3L150.0 816.7L151.5 817.9L153.0 819.1L154.5 820.2L156.0 821.3L157.5 822.3L159.0 823.3L160.5 824.1L162.0 824.8L163.5 825.4L165.0 825.9L166.5 826.3L168.0 826.6L169.5 826.7L171.0 826.9L172.5 826.9L174.0 826.8L175.5 826.6L177.0 826.3L178.5 825.9L180.0 825.5L181.5 825.0L183.0 824.5L184.5 823.9L186.0 823.3L187.5 822.7L189.0 822.0L190.5 821.3L192.0 820.6L193.5 819.7L195.0 818.8L196.5 817.8L198.0 816.7L199.5 815.4L201.0 814.1L202.5 812.6L204.0 811.0L205.5 809.2L207.0 807.3L208.5 805.3L210.0 803.1L211.5 800.9L213.0 798.7L214.5 796.6L216.0 794.6L217.5 792.5L219.0 790.1L220.5 787.3L222.0 784.2L223.5 781.0L225.0 777.7L226.5 774.4L228.0 771.1L229.5 767.9L231.0 764.7L232.5 761.5L234.0 758.1L235.5 754.7L237.0 751.2L238.5 747.7L240.0 744.3L241.5 741.1L243.0 738.3L244.5 735.7L246.0 733.1L247.5 730.4L249.0 727.4L250.5 724.1L252.0 720.6L253.5 717.2L255.0 713.9L256.5 710.7L258.0 707.4L259.5 703.8L261.0 699.9L262.5 695.6L264.0 691.1L265.5 686.8L267.0 682.7L268.5 678.7L270.0 674.9L271.5 671.1L273.0 667.4L274.5 663.8L276.0 660.3L277.5 656.7L279.0 653.0L280.5 649.1L282.0 644.8L283.5 640.1L285.0 635.2L286.5 630.2L288.0 625.1L289.5 620.0L291.0 615.0L292.5 610.0L294.0 605.0L295.5 600.2L297.0 595.4L298.5 590.9L300.0 586.5L301.5 582.5L303.0 578.6L304.5 574.8L306.0 571.1L307.5 567.4L309.0 563.6L310.5 559.8L312.0 555.9L313.5 552.2L315.0 548.6L316.5 544.9L318.0 541.2L319.5 537.5L321.0 533.8L322.5 530.6L324.0 527.7L325.5 525.0L327.0 522.5L328.5 520.3L330.0 518.4L331.5 516.8L333.0 515.5L334.5 514.4L336.0 513.6L337.5 512.9L339.0 512.3L340.5 511.9L342.0 511.6L343.5 511.6L345.0 511.7L346.5 511.9L348.0 512.3L349.5 512.9L351.0 513.8L352.5 514.9L354.0 516.3L355.5 518.1L357.0 520.2L358.5 522.6L360.0 525.1L361.5 527.6L363.0 530.3L364.5 533.0L366.0 535.9L367.5 539.1L369.0 542.6L370.5 546.3L372.0 550.1L373.5 553.9L375.0 557.7L376.5 561.7L378.0 565.9L379.5 570.2L381.0 574.5L382.5 578.9L384.0 583.5L385.5 588.2L387.0 593.2L388.5 598.2L390.0 603.3L391.5 608.8L393.0 614.8L394.5 621.2L396.0 628.1L397.5 635.3L399.0 642.8L400.5 650.4L402.0 658.1L403.5 665.7L405.0 673.1L406.5 680.1L408.0 686.9L409.5 693.5L411.0 699.9L412.5 706.1L414.0 712.1L415.5 718.0L417.0 723.8L418.5 729.4L420.0 734.6L421.5 739.5L423.0 743.8L424.5 748.0L426.0 752.0L427.5 756.0L429.0 759.9L430.5 763.6L432.0 767.1L433.5 770.4L435.0 773.5L436.5 776.5L438.0 779.4L439.5 782.2L441.0 784.9L442.5 787.6L444.0 790.1L445.5 792.6L447.0 794.9L448.5 797.1L450.0 799.2L451.5 801.2L453.0 803.0L454.5 804.7L456.0 806.3L457.5 807.8L459.0 809.3L460.5 810.6L462.0 812.0L463.5 813.3L465.0 814.7L466.5 816.0L468.0 817.3L469.5 818.5L471.0 819.7L472.5 820.8L474.0 821.8L475.5 822.7L477.0 823.6L478.5 824.4L480.0 825.1L481.5 825.8L483.0 826.5L484.5 827.1L486.0 827.7L487.5 828.3L489.0 828.9L490.5 829.4L492.0 829.9L493.5 830.4L495.0 830.9L496.5 831.4L498.0 831.9L499.5 832.3L501.0 832.7L502.5 833.0L504.0 833.4L505.5 833.7L507.0 834.0L508.5 834.3L510.0 834.6L511.5 834.8L513.0 835.1L514.5 835.4L516.0 835.7L517.5 836.0L519.0 836.4L520.5 836.7L522.0 837.1L523.5 837.4L525.0 837.7L526.5 838.0L528.0 838.3L529.5 838.5L531.0 838.7L532.5 839.0L534.0 839.2L535.5 839.4L537.0 839.5L538.5 839.7L540.0 839.9L541.5 840.0L543.0 840.1L544.5 840.3L546.0 840.4L547.5 840.4L549.0 840.5L550.5 840.6L552.0 840.7L553.5 840.8L555.0 840.8L556.5 840.9L558.0 841.0L559.5 841.0L561.0 841.1L562.5 841.1L564.0 841.2L565.5 841.2L567.0 841.2L568.5 841.3L570.0 841.3L571.5 841.3L573.0 841.3L574.5 841.3L576.0 841.4L577.5 841.4L579.0 841.4L580.5 841.4L582.0 841.4L583.5 841.4L585.0 841.4L586.5 841.5L588.0 841.5L589.5 841.5L591.0 841.5L592.5 841.5L594.0 841.5L595.5 841.5L597.0 841.5L598.5 841.5L600.0 841.5L601.5 841.5L603.0 841.5L604.5 841.5L606.0 841.5L607.5 841.5L609.0 841.5L610.5 841.5L612.0 841.5L613.5 841.4L615.0 841.4L616.5 841.4L618.0 841.4L619.5 841.4L621.0 841.4L622.5 841.4L624.0 841.4L625.5 841.3L627.0 841.3L628.5 841.3L630.0 841.3L631.5 841.3L633.0 841.3L634.5 841.2L636.0 841.2L637.5 841.2L639.0 841.2L640.5 841.2L642.0 841.1L643.5 841.1L645.0 841.1L646.5 841.1L648.0 841.0L649.5 841.0" stroke="#11cc11" stroke-width="4.8"/>
<path d="M60.0 835.8L61.5 835.2L63.0 834.4L64.5 833.5L66.0 832.6L67.5 831.6L69.0 830.7L70.5 829.6L72.0 828.5L73.5 827.2L75.0 826.0L76.5 824.7L78.0 823.5L79.5 822.2L81.0 820.9L82.5 819.5L84.0 818.2L85.5 816.7L87.0 815.2L88.5 813.5L90.0 811.8L91.5 810.0L93.0 808.3L94.5 806.7L96.0 805.1L97.5 803.5L99.0 802.0L100.5 800.5L102.0 799.1L103.5 797.6L105.0 796.3L106.5 795.1L108.0 794.1L109.5 793.1L111.0 792.3L112.5 791.7L114.0 791.2L115.5 790.9L117.0 790.7L118.5 790.7L120.0 790.9L121.5 791.4L123.0 792.0L124.5 792.9L126.0 794.0L127.5 795.2L129.0 796.5L130.5 797.8L132.0 799.1L133.5 800.5L135.0 801.9L136.5 803.3L138.0 804.8L139.5 806.4L141.0 808.0L142.5 809.8L144.0 811.5L145.5 813.2L147.0 814.8L148.5 816.3L150.0 817.5L151.5 818.7L153.0 819.8L154.5 820.8L156.0 821.9L157.5 822.8L159.0 823.7L160.5 824.5L162.0 825.2L163.5 825.7L165.0 826.1L166.5 826.5L168.0 826.7L169.5 826.9L171.0 827.0L172.5 827.0L174.0 826.9L175.5 826.7L177.0 826.4L178.5 826.0L180.0 825.6L181.5 825.2L183.0 824.7L184.5 824.2L186.0 823.7L187.5 823.1L189.0 822.5L190.5 821.8L192.0 821.1L193.5 820.3L195.0 819.4L196.5 818.4L198.0 817.4L199.5 816.2L201.0 814.9L202.5 813.4L204.0 811.9L205.5 810.2L207.0 808.4L208.5 806.4L210.0 804.3L211.5 802.2L213.0 800.0L214.5 798.0L216.0 796.0L217.5 793.8L219.0 791.5L220.5 788.8L222.0 785.9L223.5 782.8L225.0 779.7L226.5 776.6L228.0 773.5L229.5 770.5L231.0 767.5L232.5 764.5L234.0 761.4L235.5 758.2L237.0 754.9L238.5 751.6L240.0 748.3L241.5 745.2L243.0 742.4L244.5 739.8L246.0 737.3L247.5 734.6L249.0 731.7L250.5 728.5L252.0 725.3L253.5 722.0L255.0 718.9L256.5 715.9L258.0 712.7L259.5 709.3L261.0 705.6L262.5 701.5L264.0 697.4L265.5 693.3L267.0 689.4L268.5 685.6L270.0 681.9L271.5 678.2L273.0 674.6L274.5 671.1L276.0 667.6L277.5 664.1L279.0 660.5L280.5 656.6L282.0 652.5L283.5 648.1L285.0 643.5L286.5 638.8L288.0 634.0L289.5 629.2L291.0 624.5L292.5 619.8L294.0 615.2L295.5 610.6L297.0 606.2L298.5 602.0L300.0 598.1L301.5 594.3L303.0 590.7L304.5 587.1L306.0 583.7L307.5 580.2L309.0 576.6L310.5 573.0L312.0 569.4L313.5 565.8L315.0 562.4L316.5 559.0L318.0 555.6L319.5 552.1L321.0 548.8L322.5 545.8L324.0 543.1L325.5 540.6L327.0 538.3L328.5 536.2L330.0 534.4L331.5 532.8L333.0 531.5L334.5 530.5L336.0 529.6L337.5 528.9L339.0 528.4L340.5 528.0L342.0 527.7L343.5 527.7L345.0 527.8L346.5 528.1L348.0 528.5L349.5 529.1L351.0 530.0L352.5 531.1L354.0 532.5L355.5 534.2L357.0 536.2L358.5 538.4L360.0 540.8L361.5 543.3L363.0 545.8L364.5 548.4L366.0 551.2L367.5 554.3L369.0 557.6L370.5 561.1L372.0 564.7L373.5 568.3L375.0 571.9L376.5 575.7L378.0 579.7L379.5 583.7L381.0 587.9L382.5 592.1L384.0 596.6L385.5 601.2L387.0 605.9L388.5 610.7L390.0 615.7L391.5 620.9L393.0 626.6L394.5 632.7L396.0 639.2L397.5 645.9L399.0 652.7L400.5 659.8L402.0 666.8L403.5 673.8L405.0 680.5L406.5 687.0L408.0 693.3L409.5 699.5L411.0 705.6L412.5 711.6L414.0 717.3L415.5 722.8L417.0 728.2L418.5 733.4L420.0 738.3L421.5 742.8L423.0 746.9L424.5 750.8L426.0 754.7L427.5 758.5L429.0 762.2L430.5 765.8L432.0 769.2L433.5 772.4L435.0 775.4L436.5 778.4L438.0 781.2L439.5 783.9L441.0 786.6L442.5 789.1L444.0 791.6L445.5 793.9L447.0 796.1L448.5 798.2L450.0 800.2L451.5 802.0L453.0 803.8L454.5 805.4L456.0 806.9L457.5 808.3L459.0 809.7L460.5 811.0L462.0 812.3L463.5 813.6L465.0 814.8L466.5 816.1L468.0 817.3L469.5 818.4L471.0 819.5L472.5 820.5L474.0 821.5L475.5 822.3L477.0 823.1L478.5 823.9L480.0 824.7L481.5 825.4L483.0 826.1L484.5 826.7L486.0 827.3L487.5 827.8L489.0 828.4L490.5 828.9L492.0 829.4L493.5 829.9L495.0 830.4L496.5 830.9L498.0 831.3L499.5 831.7L501.0 832.1L502.5 832.5L504.0 832.8L505.5 833.1L507.0 833.4L508.5 833.7L510.0 834.0L511.5 834.3L513.0 834.5L514.5 834.8L516.0 835.1L517.5 835.5L519.0 835.8L520.5 836.1L522.0 836.5L523.5 836.8L525.0 837.1L526.5 837.4L528.0 837.6L529.5 837.9L531.0 838.1L532.5 838.3L534.0 838.5L535.5 838.7L537.0 838.9L538.5 839.0L540.0 839.2L541.5 839.3L543.0 839.4L544.5 839.5L546.0 839.6L547.5 839.7L549.0 839.8L550.5 839.9L552.0 840.0L553.5 840.1L555.0 840.1L556.5 840.2L558.0 840.3L559.5 840.3L561.0 840.4L562.5 840.4L564.0 840.5L565.5 840.5L567.0 840.5L568.5 840.6L570.0 840.6L571.5 840.6L573.0 840.6L574.5 840.6L576.0 840.6L577.5 840.7L579.0 840.7L580.5 840.7L582.0 840.7L583.5 840.7L585.0 840.7L586.5 840.7L588.0 840.7L589.5 840.7L591.0 840.7L592.5 840.7L594.0 840.7L595.5 840.7L597.0 840.7L598.5 840.7L600.0 840.7L601.5 840.7L603.0 840.7L604.5 840.7L606.0 840.7L607.5 840.7L609.0 840.7L610.5 840.7L612.0 840.7L613.5 840.6L615.0 840.6L616.5 840.6L618.0 840.6L619.5 840.6L621.0 840.5L622.5 840.5L624.0 840.5L625.5 840.5L627.0 840.5L628.5 840.4L630.0 840.4L631.5 840.4L633.0 840.4L634.5 840.4L636.0 840.3L637.5 840.3L639.0 840.3L640.5 840.3L642.0 840.3L643.5 840.2L645.0 840.2L646.5 840.2L648.0 840.2L649.5 840.2" stroke="#ff3300" stroke-width="4.8"/>
<path d="M60.0 836.6L61.5 836.0L63.0 835.2L64.5 834.3L66.0 833.4L67.5 832.4L69.0 831.4L70.5 830.4L72.0 829.2L73.5 828.0L75.0 826.8L76.5 825.5L78.0 824.3L79.5 823.1L81.0 821.8L82.5 820.5L84.0 819.1L85.5 817.7L87.0 816.2L88.5 814.7L90.0 813.0L91.5 811.3L93.0 809.7L94.5 808.1L96.0 806.6L97.5 805.1L99.0 803.7L100.5 802.2L102.0 800.8L103.5 799.4L105.0 798.1L106.5 796.9L108.0 795.8L109.5 794.9L111.0 794.1L112.5 793.4L114.0 792.9L115.5 792.6L117.0 792.5L118.5 792.5L120.0 792.7L121.5 793.2L123.0 793.9L124.5 794.8L126.0 795.9L127.5 797.1L129.0 798.3L130.5 799.5L132.0 800.8L133.5 802.1L135.0 803.4L136.5 804.8L138.0 806.2L139.5 807.7L141.0 809.3L142.5 810.9L144.0 812.5L145.5 814.1L147.0 815.6L148.5 817.0L150.0 818.2L151.5 819.4L153.0 820.4L154.5 821.4L156.0 822.3L157.5 823.2L159.0 824.1L160.5 824.8L162.0 825.4L163.5 825.9L165.0 826.3L166.5 826.6L168.0 826.8L169.5 827.0L171.0 827.1L172.5 827.1L174.0 827.0L175.5 826.8L177.0 826.5L178.5 826.1L180.0 825.7L181.5 825.3L183.0 824.9L184.5 824.4L186.0 823.9L187.5 823.4L189.0 822.8L190.5 822.2L192.0 821.5L193.5 820.7L195.0 819.9L196.5 819.0L198.0 817.9L199.5 816.8L201.0 815.5L202.5 814.2L204.0 812.7L205.5 811.0L207.0 809.3L208.5 807.3L210.0 805.3L211.5 803.2L213.0 801.1L214.5 799.1L216.0 797.1L217.5 794.9L219.0 792.6L220.5 790.0L222.0 787.2L223.5 784.3L225.0 781.3L226.5 778.4L228.0 775.5L229.5 772.6L231.0 769.8L232.5 767.0L234.0 764.1L235.5 761.1L237.0 757.9L238.5 754.7L240.0 751.6L241.5 748.6L243.0 745.8L244.5 743.3L246.0 740.7L247.5 738.1L249.0 735.3L250.5 732.2L252.0 729.1L253.5 726.0L255.0 723.0L256.5 720.1L258.0 717.1L259.5 713.9L261.0 710.3L262.5 706.4L264.0 702.5L265.5 698.6L267.0 694.9L268.5 691.2L270.0 687.6L271.5 684.0L273.0 680.5L274.5 677.0L276.0 673.5L277.5 670.1L279.0 666.5L280.5 662.8L282.0 658.9L283.5 654.7L285.0 650.3L286.5 645.8L288.0 641.2L289.5 636.7L291.0 632.2L292.5 627.8L294.0 623.4L295.5 619.2L297.0 615.1L298.5 611.2L300.0 607.5L301.5 604.0L303.0 600.6L304.5 597.2L306.0 593.9L307.5 590.6L309.0 587.2L310.5 583.8L312.0 580.4L313.5 577.0L315.0 573.7L316.5 570.5L318.0 567.3L319.5 564.1L321.0 561.1L322.5 558.3L324.0 555.7L325.5 553.3L327.0 551.2L328.5 549.2L330.0 547.4L331.5 545.9L333.0 544.7L334.5 543.6L336.0 542.8L337.5 542.1L339.0 541.5L340.5 541.1L342.0 540.9L343.5 540.9L345.0 541.0L346.5 541.3L348.0 541.8L349.5 542.4L351.0 543.2L352.5 544.3L354.0 545.7L355.5 547.3L357.0 549.3L358.5 551.4L360.0 553.7L361.5 556.1L363.0 558.6L364.5 561.1L366.0 563.8L367.5 566.7L369.0 569.9L370.5 573.2L372.0 576.6L373.5 580.0L375.0 583.5L376.5 587.2L378.0 591.0L379.5 594.9L381.0 598.9L382.5 603.0L384.0 607.3L385.5 611.8L387.0 616.4L388.5 621.0L390.0 625.8L391.5 630.9L393.0 636.3L394.5 642.1L396.0 648.2L397.5 654.5L399.0 660.9L400.5 667.4L402.0 674.0L403.5 680.4L405.0 686.6L406.5 692.7L408.0 698.6L409.5 704.5L411.0 710.4L412.5 716.1L414.0 721.6L415.5 726.8L417.0 731.8L418.5 736.6L420.0 741.2L421.5 745.5L423.0 749.4L424.5 753.2L426.0 756.9L427.5 760.6L429.0 764.2L430.5 767.6L432.0 770.9L433.5 774.0L435.0 777.0L436.5 779.9L438.0 782.7L439.5 785.4L441.0 788.0L442.5 790.4L444.0 792.8L445.5 795.0L447.0 797.1L448.5 799.1L450.0 801.0L451.5 802.7L453.0 804.4L454.5 805.9L456.0 807.3L457.5 808.7L459.0 810.0L460.5 811.3L462.0 812.5L463.5 813.8L465.0 815.0L466.5 816.2L468.0 817.3L469.5 818.4L471.0 819.4L472.5 820.3L474.0 821.2L475.5 822.0L477.0 822.8L478.5 823.6L480.0 824.3L481.5 825.1L483.0 825.7L484.5 826.4L486.0 826.9L487.5 827.5L489.0 828.0L490.5 828.5L492.0 829.0L493.5 829.5L495.0 830.0L496.5 830.4L498.0 830.8L499.5 831.2L501.0 831.6L502.5 832.0L504.0 832.3L505.5 832.6L507.0 832.9L508.5 833.2L510.0 833.5L511.5 833.8L513.0 834.1L514.5 834.4L516.0 834.7L517.5 835.0L519.0 835.3L520.5 835.6L522.0 836.0L523.5 836.3L525.0 836.6L526.5 836.9L528.0 837.1L529.5 837.4L531.0 837.6L532.5 837.8L534.0 838.0L535.5 838.1L537.0 838.3L538.5 838.5L540.0 838.6L541.5 838.7L543.0 838.9L544.5 839.0L546.0 839.1L547.5 839.2L549.0 839.3L550.5 839.3L552.0 839.4L553.5 839.5L555.0 839.6L556.5 839.6L558.0 839.7L559.5 839.8L561.0 839.8L562.5 839.8L564.0 839.9L565.5 839.9L567.0 839.9L568.5 840.0L570.0 840.0L571.5 840.0L573.0 840.0L574.5 840.0L576.0 840.1L577.5 840.1L579.0 840.1L580.5 840.1L582.0 840.1L583.5 840.1L585.0 840.1L586.5 840.1L588.0 840.1L589.5 840.1L591.0 840.1L592.5 840.1L594.0 840.1L595.5 840.1L597.0 840.1L598.5 840.1L600.0 840.1L601.5 840.1L603.0 840.1L604.5 840.1L606.0 840.1L607.5 840.0L609.0 840.0L610.5 840.0L612.0 840.0L613.5 840.0L615.0 840.0L616.5 839.9L618.0 839.9L619.5 839.9L621.0 839.8L622.5 839.8L624.0 839.8L625.5 839.8L627.0 839.7L628.5 839.7L630.0 839.7L631.5 839.7L633.0 839.7L634.5 839.6L636.0 839.6L637.5 839.6L639.0 839.6L640.5 839.6L642.0 839.5L643.5 839.5L645.0 839.5L646.5 839.5L648.0 839.5L649.5 839.5" stroke="#8064a2" stroke-width="4.8"/>
<path d="M60.0 837.5L61.5 837.0L63.0 836.1L64.5 835.2L66.0 834.3L67.5 833.3L69.0 832.2L70.5 831.1L72.0 830.0L73.5 828.8L75.0 827.6L76.5 826.4L78.0 825.2L79.5 824.0L81.0 822.8L82.5 821.5L84.0 820.2L85.5 818.8L87.0 817.4L88.5 815.9L90.0 814.3L91.5 812.8L93.0 811.2L94.5 809.8L96.0 808.3L97.5 806.9L99.0 805.5L100.5 804.1L102.0 802.7L103.5 801.4L105.0 800.1L106.5 798.9L108.0 797.8L109.5 796.8L111.0 796.0L112.5 795.3L114.0 794.8L115.5 794.5L117.0 794.4L118.5 794.4L120.0 794.7L121.5 795.2L123.0 795.9L124.5 796.8L126.0 797.9L127.5 799.1L129.0 800.2L130.5 801.4L132.0 802.6L133.5 803.9L135.0 805.1L136.5 806.3L138.0 807.7L139.5 809.1L141.0 810.6L142.5 812.1L144.0 813.6L145.5 815.1L147.0 816.6L148.5 817.9L150.0 819.0L151.5 820.1L153.0 821.0L154.5 821.9L156.0 822.8L157.5 823.7L159.0 824.4L160.5 825.1L162.0 825.7L163.5 826.1L165.0 826.5L166.5 826.8L168.0 827.0L169.5 827.1L171.0 827.2L172.5 827.2L174.0 827.1L175.5 826.9L177.0 826.6L178.5 826.2L180.0 825.8L181.5 825.4L183.0 825.0L184.5 824.6L186.0 824.2L187.5 823.7L189.0 823.2L190.5 822.6L192.0 822.0L193.5 821.2L195.0 820.4L196.5 819.5L198.0 818.5L199.5 817.4L201.0 816.2L202.5 814.9L204.0 813.5L205.5 811.9L207.0 810.2L208.5 808.3L210.0 806.4L211.5 804.4L213.0 802.3L214.5 800.3L216.0 798.3L217.5 796.2L219.0 793.8L220.5 791.3L222.0 788.6L223.5 785.9L225.0 783.1L226.5 780.3L228.0 777.6L229.5 775.0L231.0 772.3L232.5 769.7L234.0 767.0L235.5 764.2L237.0 761.3L238.5 758.2L240.0 755.2L241.5 752.2L243.0 749.5L244.5 747.0L246.0 744.5L247.5 741.9L249.0 739.1L250.5 736.2L252.0 733.2L253.5 730.3L255.0 727.5L256.5 724.7L258.0 721.8L259.5 718.7L261.0 715.4L262.5 711.7L264.0 708.0L265.5 704.4L267.0 700.8L268.5 697.3L270.0 693.8L271.5 690.3L273.0 686.9L274.5 683.4L276.0 680.0L277.5 676.6L279.0 673.1L280.5 669.5L282.0 665.8L283.5 661.8L285.0 657.7L286.5 653.4L288.0 649.1L289.5 644.8L291.0 640.6L292.5 636.4L294.0 632.4L295.5 628.5L297.0 624.7L298.5 621.1L300.0 617.7L301.5 614.5L303.0 611.3L304.5 608.2L306.0 605.1L307.5 601.9L309.0 598.8L310.5 595.5L312.0 592.3L313.5 589.1L315.0 586.0L316.5 583.0L318.0 580.1L319.5 577.1L321.0 574.3L322.5 571.8L324.0 569.4L325.5 567.2L327.0 565.1L328.5 563.3L330.0 561.6L331.5 560.2L333.0 558.9L334.5 557.9L336.0 557.0L337.5 556.3L339.0 555.7L340.5 555.3L342.0 555.2L343.5 555.2L345.0 555.4L346.5 555.7L348.0 556.1L349.5 556.8L351.0 557.6L352.5 558.7L354.0 560.0L355.5 561.6L357.0 563.4L358.5 565.5L360.0 567.7L361.5 570.0L363.0 572.4L364.5 574.8L366.0 577.4L367.5 580.2L369.0 583.2L370.5 586.3L372.0 589.5L373.5 592.8L375.0 596.1L376.5 599.6L378.0 603.2L379.5 606.9L381.0 610.8L382.5 614.8L384.0 618.9L385.5 623.2L387.0 627.7L388.5 632.2L390.0 636.8L391.5 641.6L393.0 646.8L394.5 652.2L396.0 658.0L397.5 663.8L399.0 669.8L400.5 675.7L402.0 681.7L403.5 687.6L405.0 693.3L406.5 698.8L408.0 704.3L409.5 709.9L411.0 715.5L412.5 720.9L414.0 726.2L415.5 731.1L417.0 735.7L418.5 740.2L420.0 744.4L421.5 748.4L423.0 752.1L424.5 755.7L426.0 759.3L427.5 762.8L429.0 766.2L430.5 769.5L432.0 772.7L433.5 775.8L435.0 778.7L436.5 781.6L438.0 784.3L439.5 786.9L441.0 789.4L442.5 791.8L444.0 794.0L445.5 796.2L447.0 798.2L448.5 800.0L450.0 801.8L451.5 803.5L453.0 805.0L454.5 806.5L456.0 807.8L457.5 809.1L459.0 810.4L460.5 811.6L462.0 812.8L463.5 814.0L465.0 815.1L466.5 816.3L468.0 817.3L469.5 818.3L471.0 819.2L472.5 820.1L474.0 820.9L475.5 821.6L477.0 822.4L478.5 823.2L480.0 824.0L481.5 824.7L483.0 825.4L484.5 826.0L486.0 826.6L487.5 827.1L489.0 827.6L490.5 828.1L492.0 828.6L493.5 829.0L495.0 829.5L496.5 829.9L498.0 830.3L499.5 830.7L501.0 831.1L502.5 831.4L504.0 831.8L505.5 832.1L507.0 832.4L508.5 832.7L510.0 833.0L511.5 833.3L513.0 833.6L514.5 833.9L516.0 834.2L517.5 834.5L519.0 834.8L520.5 835.1L522.0 835.4L523.5 835.7L525.0 836.0L526.5 836.3L528.0 836.6L529.5 836.8L531.0 837.0L532.5 837.2L534.0 837.4L535.5 837.6L537.0 837.7L538.5 837.9L540.0 838.0L541.5 838.1L543.0 838.2L544.5 838.3L546.0 838.4L547.5 838.5L549.0 838.6L550.5 838.7L552.0 838.8L553.5 838.9L555.0 839.0L556.5 839.0L558.0 839.1L559.5 839.1L561.0 839.2L562.5 839.2L564.0 839.3L565.5 839.3L567.0 839.3L568.5 839.3L570.0 839.4L571.5 839.4L573.0 839.4L574.5 839.4L576.0 839.4L577.5 839.4L579.0 839.4L580.5 839.4L582.0 839.4L583.5 839.5L585.0 839.5L586.5 839.5L588.0 839.5L589.5 839.4L591.0 839.4L592.5 839.4L594.0 839.4L595.5 839.4L597.0 839.4L598.5 839.4L600.0 839.4L601.5 839.4L603.0 839.4L604.5 839.4L606.0 839.4L607.5 839.3L609.0 839.3L610.5 839.3L612.0 839.3L613.5 839.3L615.0 839.2L616.5 839.2L618.0 839.2L619.5 839.1L621.0 839.1L622.5 839.1L624.0 839.0L625.5 839.0L627.0 839.0L628.5 838.9L630.0 838.9L631.5 838.9L633.0 838.9L634.5 838.9L636.0 838.8L637.5 838.8L639.0 838.8L640.5 838.8L642.0 838.8L643.5 838.8L645.0 838.7L646.5 838.7L648.0 838.7L649.5 838.7" stroke="#4bacc6" stroke-width="4.8"/>
<path d="M60.0 838.4L61.5 837.8L63.0 837.0L64.5 836.1L66.0 835.1L67.5 834.1L69.0 833.0L70.5 831.9L72.0 830.7L73.5 829.6L75.0 828.4L76.5 827.3L78.0 826.1L79.5 825.0L81.0 823.8L82.5 822.5L84.0 821.2L85.5 819.9L87.0 818.5L88.5 817.1L90.0 815.6L91.5 814.1L93.0 812.7L94.5 811.3L96.0 809.9L97.5 808.6L99.0 807.2L100.5 805.8L102.0 804.5L103.5 803.2L105.0 802.0L106.5 800.8L108.0 799.6L109.5 798.6L111.0 797.8L112.5 797.1L114.0 796.6L115.5 796.3L117.0 796.2L118.5 796.3L120.0 796.6L121.5 797.1L123.0 797.9L124.5 798.8L126.0 799.8L127.5 801.0L129.0 802.1L130.5 803.3L132.0 804.4L133.5 805.5L135.0 806.7L136.5 807.9L138.0 809.1L139.5 810.4L141.0 811.8L142.5 813.2L144.0 814.7L145.5 816.1L147.0 817.4L148.5 818.6L150.0 819.7L151.5 820.7L153.0 821.6L154.5 822.5L156.0 823.3L157.5 824.1L159.0 824.8L160.5 825.4L162.0 825.9L163.5 826.4L165.0 826.7L166.5 826.9L168.0 827.1L169.5 827.2L171.0 827.3L172.5 827.3L174.0 827.2L175.5 827.0L177.0 826.7L178.5 826.3L180.0 825.9L181.5 825.6L183.0 825.2L184.5 824.8L186.0 824.4L187.5 824.0L189.0 823.5L190.5 823.0L192.0 822.4L193.5 821.7L195.0 821.0L196.5 820.1L198.0 819.1L199.5 818.1L201.0 816.9L202.5 815.7L204.0 814.3L205.5 812.8L207.0 811.1L208.5 809.3L210.0 807.4L211.5 805.5L213.0 803.5L214.5 801.5L216.0 799.5L217.5 797.3L219.0 795.0L220.5 792.6L222.0 790.0L223.5 787.4L225.0 784.8L226.5 782.2L228.0 779.7L229.5 777.2L231.0 774.7L232.5 772.3L234.0 769.8L235.5 767.2L237.0 764.4L238.5 761.5L240.0 758.6L241.5 755.7L243.0 753.0L244.5 750.5L246.0 748.0L247.5 745.5L249.0 742.8L250.5 740.0L252.0 737.2L253.5 734.4L255.0 731.8L256.5 729.1L258.0 726.4L259.5 723.4L261.0 720.2L262.5 716.8L264.0 713.3L265.5 709.9L267.0 706.5L268.5 703.1L270.0 699.7L271.5 696.3L273.0 693.0L274.5 689.6L276.0 686.2L277.5 682.8L279.0 679.4L280.5 676.0L282.0 672.4L283.5 668.7L285.0 664.7L286.5 660.7L288.0 656.6L289.5 652.5L291.0 648.6L292.5 644.7L294.0 641.0L295.5 637.4L297.0 634.0L298.5 630.7L300.0 627.5L301.5 624.5L303.0 621.6L304.5 618.7L306.0 615.7L307.5 612.8L309.0 609.8L310.5 606.8L312.0 603.7L313.5 600.7L315.0 597.8L316.5 595.0L318.0 592.3L319.5 589.6L321.0 587.1L322.5 584.7L324.0 582.5L325.5 580.4L327.0 578.5L328.5 576.8L330.0 575.2L331.5 573.8L333.0 572.6L334.5 571.5L336.0 570.7L337.5 569.9L339.0 569.4L340.5 569.0L342.0 568.8L343.5 568.9L345.0 569.1L346.5 569.4L348.0 569.9L349.5 570.6L351.0 571.4L352.5 572.5L354.0 573.7L355.5 575.3L357.0 577.0L358.5 579.0L360.0 581.1L361.5 583.3L363.0 585.6L364.5 588.0L366.0 590.4L367.5 593.1L369.0 595.9L370.5 598.9L372.0 601.9L373.5 605.0L375.0 608.2L376.5 611.5L378.0 614.9L379.5 618.5L381.0 622.2L382.5 626.0L384.0 630.1L385.5 634.2L387.0 638.5L388.5 642.9L390.0 647.3L391.5 651.9L393.0 656.8L394.5 662.0L396.0 667.4L397.5 672.8L399.0 678.2L400.5 683.7L402.0 689.1L403.5 694.4L405.0 699.6L406.5 704.7L408.0 709.8L409.5 715.1L411.0 720.4L412.5 725.6L414.0 730.6L415.5 735.2L417.0 739.5L418.5 743.6L420.0 747.5L421.5 751.2L423.0 754.7L424.5 758.2L426.0 761.6L427.5 764.9L429.0 768.2L430.5 771.4L432.0 774.5L433.5 777.5L435.0 780.4L436.5 783.2L438.0 785.8L439.5 788.4L441.0 790.8L442.5 793.1L444.0 795.3L445.5 797.3L447.0 799.2L448.5 801.0L450.0 802.6L451.5 804.2L453.0 805.7L454.5 807.0L456.0 808.3L457.5 809.5L459.0 810.7L460.5 811.9L462.0 813.0L463.5 814.2L465.0 815.3L466.5 816.4L468.0 817.3L469.5 818.3L471.0 819.1L472.5 819.9L474.0 820.6L475.5 821.3L477.0 822.0L478.5 822.8L480.0 823.6L481.5 824.4L483.0 825.0L484.5 825.6L486.0 826.2L487.5 826.7L489.0 827.2L490.5 827.7L492.0 828.1L493.5 828.6L495.0 829.0L496.5 829.4L498.0 829.8L499.5 830.2L501.0 830.6L502.5 830.9L504.0 831.3L505.5 831.6L507.0 831.9L508.5 832.2L510.0 832.5L511.5 832.8L513.0 833.1L514.5 833.4L516.0 833.7L517.5 834.0L519.0 834.3L520.5 834.6L522.0 834.9L523.5 835.2L525.0 835.5L526.5 835.8L528.0 836.0L529.5 836.3L531.0 836.5L532.5 836.7L534.0 836.8L535.5 837.0L537.0 837.1L538.5 837.3L540.0 837.4L541.5 837.5L543.0 837.6L544.5 837.7L546.0 837.8L547.5 837.9L549.0 838.0L550.5 838.1L552.0 838.2L553.5 838.3L555.0 838.4L556.5 838.4L558.0 838.5L559.5 838.5L561.0 838.6L562.5 838.6L564.0 838.6L565.5 838.7L567.0 838.7L568.5 838.7L570.0 838.7L571.5 838.8L573.0 838.8L574.5 838.8L576.0 838.8L577.5 838.8L579.0 838.8L580.5 838.8L582.0 838.8L583.5 838.8L585.0 838.8L586.5 838.8L588.0 838.8L589.5 838.8L591.0 838.8L592.5 838.8L594.0 838.8L595.5 838.6L597.0 838.2L598.5 837.8L600.0 837.4L601.5 836.9L603.0 836.5L604.5 836.0L606.0 835.5L607.5 835.0L609.0 834.5L610.5 834.0L612.0 833.4L613.5 832.9L615.0 832.3L616.5 832.2L618.0 832.1L619.5 832.0L621.0 831.8L622.5 831.7L624.0 831.6L625.5 831.4L627.0 831.3L628.5 831.2L630.0 831.1L631.5 831.0L633.0 831.0L634.5 830.9L636.0 830.8L637.5 830.7L639.0 830.6L640.5 830.5L642.0 830.5L643.5 830.4L645.0 830.3L646.5 830.3L648.0 830.3L649.5 830.3" stroke="#f79646" stroke-width="4.8"/>
<path d="M60.0 838.8L61.5 838.2L63.0 837.4L64.5 836.5L66.0 835.5L67.5 834.5L69.0 833.3L70.5 832.2L72.0 831.1L73.5 829.9L75.0 828.8L76.5 827.7L78.0 826.5L79.5 825.4L81.0 824.2L82.5 823.0L84.0 821.7L85.5 820.4L87.0 819.0L88.5 817.6L90.0 816.2L91.5 814.8L93.0 813.4L94.5 812.0L96.0 810.6L97.5 809.3L99.0 808.0L100.5 806.6L102.0 805.3L103.5 804.0L105.0 802.8L106.5 801.6L108.0 800.5L109.5 799.5L111.0 798.6L112.5 797.9L114.0 797.4L115.5 797.1L117.0 797.0L118.5 797.1L120.0 797.4L121.5 798.0L123.0 798.7L124.5 799.7L126.0 800.7L127.5 801.8L129.0 802.9L130.5 804.1L132.0 805.2L133.5 806.3L135.0 807.4L136.5 808.6L138.0 809.8L139.5 811.0L141.0 812.4L142.5 813.7L144.0 815.1L145.5 816.5L147.0 817.8L148.5 819.0L150.0 820.1L151.5 821.0L153.0 821.9L154.5 822.7L156.0 823.5L157.5 824.3L159.0 825.0L160.5 825.5L162.0 826.0L163.5 826.4L165.0 826.8L166.5 827.0L168.0 827.2L169.5 827.3L171.0 827.3L172.5 827.3L174.0 827.2L175.5 827.0L177.0 826.7L178.5 826.3L180.0 826.0L181.5 825.6L183.0 825.3L184.5 824.9L186.0 824.6L187.5 824.2L189.0 823.7L190.5 823.2L192.0 822.6L193.5 821.9L195.0 821.2L196.5 820.3L198.0 819.4L199.5 818.4L201.0 817.2L202.5 816.0L204.0 814.7L205.5 813.2L207.0 811.5L208.5 809.7L210.0 807.9L211.5 805.9L213.0 804.0L214.5 802.0L216.0 800.0L217.5 797.8L219.0 795.5L220.5 793.1L222.0 790.6L223.5 788.1L225.0 785.6L226.5 783.0L228.0 780.6L229.5 778.2L231.0 775.8L232.5 773.5L234.0 771.1L235.5 768.6L237.0 765.8L238.5 763.0L240.0 760.1L241.5 757.3L243.0 754.6L244.5 752.1L246.0 749.6L247.5 747.1L249.0 744.4L250.5 741.7L252.0 738.9L253.5 736.3L255.0 733.7L256.5 731.1L258.0 728.4L259.5 725.5L261.0 722.4L262.5 719.1L264.0 715.7L265.5 712.4L267.0 709.0L268.5 705.7L270.0 702.4L271.5 699.1L273.0 695.7L274.5 692.3L276.0 688.9L277.5 685.6L279.0 682.2L280.5 678.9L282.0 675.4L283.5 671.7L285.0 667.9L286.5 663.9L288.0 660.0L289.5 656.0L291.0 652.2L292.5 648.4L294.0 644.9L295.5 641.4L297.0 638.1L298.5 634.9L300.0 631.9L301.5 629.0L303.0 626.2L304.5 623.4L306.0 620.5L307.5 617.7L309.0 614.8L310.5 611.8L312.0 608.8L313.5 605.9L315.0 603.1L316.5 600.4L318.0 597.7L319.5 595.2L321.0 592.8L322.5 590.5L324.0 588.4L325.5 586.4L327.0 584.5L328.5 582.8L330.0 581.3L331.5 579.9L333.0 578.7L334.5 577.7L336.0 576.8L337.5 576.1L339.0 575.5L340.5 575.1L342.0 575.0L343.5 575.0L345.0 575.2L346.5 575.6L348.0 576.1L349.5 576.7L351.0 577.6L352.5 578.6L354.0 579.9L355.5 581.4L357.0 583.1L358.5 585.1L360.0 587.2L361.5 589.3L363.0 591.6L364.5 593.9L366.0 596.3L367.5 598.9L369.0 601.6L370.5 604.5L372.0 607.5L373.5 610.5L375.0 613.6L376.5 616.8L378.0 620.2L379.5 623.7L381.0 627.3L382.5 631.1L384.0 635.1L385.5 639.2L387.0 643.4L388.5 647.6L390.0 652.0L391.5 656.5L393.0 661.3L394.5 666.4L396.0 671.6L397.5 676.8L399.0 682.0L400.5 687.3L402.0 692.4L403.5 697.5L405.0 702.4L406.5 707.3L408.0 712.3L409.5 717.4L411.0 722.6L412.5 727.7L414.0 732.6L415.5 737.0L417.0 741.2L418.5 745.1L420.0 748.8L421.5 752.4L423.0 755.9L424.5 759.3L426.0 762.6L427.5 765.9L429.0 769.1L430.5 772.2L432.0 775.3L433.5 778.3L435.0 781.1L436.5 783.9L438.0 786.5L439.5 789.1L441.0 791.5L442.5 793.7L444.0 795.8L445.5 797.8L447.0 799.6L448.5 801.4L450.0 803.0L451.5 804.5L453.0 805.9L454.5 807.3L456.0 808.5L457.5 809.7L459.0 810.9L460.5 812.0L462.0 813.1L463.5 814.3L465.0 815.4L466.5 816.4L468.0 817.4L469.5 818.2L471.0 819.0L472.5 819.8L474.0 820.5L475.5 821.1L477.0 821.9L478.5 822.7L480.0 823.5L481.5 824.2L483.0 824.9L484.5 825.5L486.0 826.0L487.5 826.5L489.0 827.0L490.5 827.5L492.0 827.9L493.5 828.4L495.0 828.8L496.5 829.2L498.0 829.6L499.5 830.0L501.0 830.4L502.5 830.7L504.0 831.0L505.5 831.4L507.0 831.7L508.5 832.0L510.0 832.3L511.5 832.6L513.0 832.9L514.5 833.2L516.0 833.5L517.5 833.8L519.0 834.1L520.5 834.4L522.0 834.7L523.5 835.0L525.0 835.3L526.5 835.5L528.0 835.8L529.5 836.0L531.0 836.2L532.5 836.4L534.0 836.6L535.5 836.7L537.0 836.9L538.5 837.0L540.0 837.1L541.5 837.3L543.0 837.4L544.5 837.5L546.0 837.6L547.5 837.7L549.0 837.8L550.5 837.9L552.0 837.9L553.5 838.0L555.0 838.1L556.5 838.2L558.0 838.2L559.5 838.3L561.0 838.3L562.5 838.3L564.0 838.4L565.5 838.4L567.0 838.4L568.5 838.5L570.0 838.5L571.5 838.5L573.0 838.5L574.5 838.5L576.0 838.5L577.5 838.5L579.0 838.5L580.5 838.5L582.0 838.5L583.5 838.5L585.0 838.5L586.5 838.5L588.0 838.5L589.5 838.5L591.0 838.5L592.5 838.5L594.0 838.5L595.5 838.5L597.0 838.5L598.5 838.5L600.0 838.4L601.5 838.4L603.0 838.4L604.5 838.4L606.0 838.4L607.5 838.4L609.0 838.3L610.5 838.3L612.0 838.3L613.5 838.3L615.0 838.2L616.5 838.2L618.0 838.2L619.5 838.1L621.0 838.1L622.5 838.0L624.0 838.0L625.5 837.9L627.0 837.9L628.5 837.9L630.0 837.8L631.5 837.8L633.0 837.8L634.5 837.8L636.0 837.8L637.5 837.7L639.0 837.7L640.5 837.7L642.0 837.7L643.5 837.7L645.0 837.7L646.5 837.7L648.0 837.6L649.5 837.6" stroke="#b8cce4" stroke-width="4.8"/>
<path d="M60.0 839.0L61.5 838.4L63.0 837.7L64.5 836.7L66.0 835.7L67.5 834.6L69.0 833.5L70.5 832.4L72.0 831.2L73.5 830.1L75.0 829.0L76.5 827.9L78.0 826.7L79.5 825.6L81.0 824.4L82.5 823.2L84.0 822.0L85.5 820.6L87.0 819.3L88.5 817.9L90.0 816.5L91.5 815.1L93.0 813.7L94.5 812.3L96.0 811.0L97.5 809.7L99.0 808.4L100.5 807.1L102.0 805.8L103.5 804.5L105.0 803.2L106.5 802.0L108.0 800.9L109.5 799.9L111.0 799.1L112.5 798.4L114.0 797.9L115.5 797.6L117.0 797.4L118.5 797.5L120.0 797.9L121.5 798.4L123.0 799.2L124.5 800.1L126.0 801.2L127.5 802.3L129.0 803.4L130.5 804.5L132.0 805.6L133.5 806.7L135.0 807.8L136.5 808.9L138.0 810.1L139.5 811.4L141.0 812.7L142.5 814.0L144.0 815.4L145.5 816.8L147.0 818.0L148.5 819.2L150.0 820.2L151.5 821.2L153.0 822.0L154.5 822.9L156.0 823.6L157.5 824.4L159.0 825.0L160.5 825.6L162.0 826.1L163.5 826.5L165.0 826.8L166.5 827.0L168.0 827.2L169.5 827.3L171.0 827.3L172.5 827.3L174.0 827.2L175.5 827.0L177.0 826.7L178.5 826.4L180.0 826.0L181.5 825.7L183.0 825.3L184.5 825.0L186.0 824.6L187.5 824.2L189.0 823.8L190.5 823.3L192.0 822.7L193.5 822.0L195.0 821.3L196.5 820.5L198.0 819.5L199.5 818.5L201.0 817.4L202.5 816.2L204.0 814.8L205.5 813.4L207.0 811.7L208.5 810.0L210.0 808.1L211.5 806.2L213.0 804.3L214.5 802.3L216.0 800.3L217.5 798.1L219.0 795.8L220.5 793.4L222.0 791.0L223.5 788.5L225.0 786.0L226.5 783.5L228.0 781.1L229.5 778.7L231.0 776.4L232.5 774.1L234.0 771.8L235.5 769.3L237.0 766.6L238.5 763.8L240.0 760.9L241.5 758.1L243.0 755.5L244.5 752.9L246.0 750.5L247.5 748.0L249.0 745.3L250.5 742.6L252.0 739.9L253.5 737.3L255.0 734.7L256.5 732.2L258.0 729.5L259.5 726.7L261.0 723.6L262.5 720.3L264.0 717.0L265.5 713.7L267.0 710.4L268.5 707.1L270.0 703.8L271.5 700.5L273.0 697.2L274.5 693.8L276.0 690.4L277.5 687.1L279.0 683.8L280.5 680.4L282.0 677.0L283.5 673.4L285.0 669.6L286.5 665.7L288.0 661.8L289.5 657.9L291.0 654.1L292.5 650.5L294.0 646.9L295.5 643.6L297.0 640.3L298.5 637.2L300.0 634.3L301.5 631.4L303.0 628.7L304.5 625.9L306.0 623.1L307.5 620.3L309.0 617.4L310.5 614.5L312.0 611.6L313.5 608.7L315.0 605.9L316.5 603.3L318.0 600.7L319.5 598.2L321.0 595.9L322.5 593.6L324.0 591.6L325.5 589.6L327.0 587.8L328.5 586.1L330.0 584.5L331.5 583.2L333.0 582.0L334.5 581.0L336.0 580.1L337.5 579.4L339.0 578.8L340.5 578.4L342.0 578.3L343.5 578.3L345.0 578.6L346.5 578.9L348.0 579.4L349.5 580.1L351.0 580.9L352.5 582.0L354.0 583.2L355.5 584.7L357.0 586.4L358.5 588.3L360.0 590.4L361.5 592.6L363.0 594.8L364.5 597.1L366.0 599.5L367.5 602.0L369.0 604.7L370.5 607.6L372.0 610.5L373.5 613.5L375.0 616.5L376.5 619.7L378.0 623.0L379.5 626.5L381.0 630.1L382.5 633.8L384.0 637.8L385.5 641.8L387.0 646.0L388.5 650.2L390.0 654.6L391.5 659.0L393.0 663.8L394.5 668.7L396.0 673.8L397.5 679.0L399.0 684.1L400.5 689.2L402.0 694.2L403.5 699.1L405.0 704.0L406.5 708.8L408.0 713.6L409.5 718.6L411.0 723.8L412.5 728.9L414.0 733.6L415.5 738.0L417.0 742.1L418.5 745.9L420.0 749.6L421.5 753.1L423.0 756.5L424.5 759.8L426.0 763.1L427.5 766.4L429.0 769.6L430.5 772.7L432.0 775.8L433.5 778.7L435.0 781.5L436.5 784.3L438.0 786.9L439.5 789.4L441.0 791.8L442.5 794.0L444.0 796.1L445.5 798.1L447.0 799.9L448.5 801.6L450.0 803.2L451.5 804.7L453.0 806.1L454.5 807.4L456.0 808.6L457.5 809.8L459.0 811.0L460.5 812.1L462.0 813.2L463.5 814.3L465.0 815.4L466.5 816.4L468.0 817.4L469.5 818.2L471.0 819.0L472.5 819.7L474.0 820.4L475.5 821.1L477.0 821.8L478.5 822.6L480.0 823.4L481.5 824.1L483.0 824.8L484.5 825.4L486.0 825.9L487.5 826.4L489.0 826.9L490.5 827.4L492.0 827.8L493.5 828.3L495.0 828.7L496.5 829.1L498.0 829.5L499.5 829.9L501.0 830.2L502.5 830.6L504.0 830.9L505.5 831.2L507.0 831.6L508.5 831.9L510.0 832.2L511.5 832.5L513.0 832.7L514.5 833.0L516.0 833.3L517.5 833.7L519.0 834.0L520.5 834.3L522.0 834.6L523.5 834.9L525.0 835.1L526.5 835.4L528.0 835.7L529.5 835.9L531.0 836.1L532.5 836.3L534.0 836.4L535.5 836.6L537.0 836.7L538.5 836.9L540.0 837.0L541.5 837.1L543.0 837.2L544.5 837.3L546.0 837.4L547.5 837.5L549.0 837.6L550.5 837.7L552.0 837.8L553.5 837.9L555.0 838.0L556.5 838.0L558.0 838.1L559.5 838.1L561.0 838.2L562.5 838.2L564.0 838.2L565.5 838.3L567.0 838.3L568.5 838.3L570.0 838.3L571.5 838.3L573.0 838.4L574.5 838.4L576.0 838.4L577.5 838.4L579.0 838.4L580.5 838.4L582.0 838.4L583.5 838.4L585.0 838.4L586.5 838.4L588.0 838.4L589.5 838.4L591.0 838.4L592.5 838.4L594.0 838.3L595.5 838.3L597.0 838.3L598.5 838.3L600.0 838.3L601.5 838.3L603.0 838.3L604.5 838.2L606.0 838.2L607.5 838.2L609.0 838.2L610.5 838.1L612.0 838.1L613.5 838.1L615.0 838.1L616.5 838.0L618.0 838.0L619.5 837.9L621.0 837.9L622.5 837.8L624.0 837.8L625.5 837.7L627.0 837.7L628.5 837.7L630.0 837.7L631.5 837.6L633.0 837.6L634.5 837.6L636.0 837.6L637.5 837.6L639.0 837.5L640.5 837.5L642.0 837.5L643.5 837.5L645.0 837.5L646.5 837.5L648.0 837.5L649.5 837.5" stroke="#c00000" stroke-width="4.8"/>
<path d="M60.0 839.6L61.5 839.1L63.0 838.3L64.5 837.4L66.0 836.3L67.5 835.2L69.0 834.1L70.5 832.9L72.0 831.8L73.5 830.7L75.0 829.6L76.5 828.5L78.0 827.4L79.5 826.3L81.0 825.1L82.5 824.0L84.0 822.7L85.5 821.4L87.0 820.1L88.5 818.8L90.0 817.4L91.5 816.1L93.0 814.8L94.5 813.5L96.0 812.2L97.5 810.9L99.0 809.6L100.5 808.4L102.0 807.1L103.5 805.8L105.0 804.6L106.5 803.4L108.0 802.3L109.5 801.3L111.0 800.4L112.5 799.7L114.0 799.2L115.5 798.9L117.0 798.8L118.5 798.9L120.0 799.2L121.5 799.8L123.0 800.6L124.5 801.6L126.0 802.6L127.5 803.7L129.0 804.8L130.5 805.8L132.0 806.9L133.5 807.9L135.0 809.0L136.5 810.0L138.0 811.2L139.5 812.3L141.0 813.6L142.5 814.9L144.0 816.2L145.5 817.5L147.0 818.7L148.5 819.8L150.0 820.8L151.5 821.7L153.0 822.5L154.5 823.3L156.0 824.0L157.5 824.7L159.0 825.3L160.5 825.8L162.0 826.3L163.5 826.7L165.0 827.0L166.5 827.2L168.0 827.3L169.5 827.4L171.0 827.4L172.5 827.4L174.0 827.3L175.5 827.1L177.0 826.8L178.5 826.4L180.0 826.1L181.5 825.8L183.0 825.5L184.5 825.2L186.0 824.8L187.5 824.5L189.0 824.0L190.5 823.6L192.0 823.0L193.5 822.4L195.0 821.7L196.5 820.9L198.0 820.0L199.5 819.0L201.0 817.9L202.5 816.7L204.0 815.4L205.5 814.0L207.0 812.4L208.5 810.7L210.0 808.9L211.5 807.0L213.0 805.1L214.5 803.2L216.0 801.1L217.5 798.9L219.0 796.7L220.5 794.3L222.0 792.0L223.5 789.6L225.0 787.2L226.5 784.9L228.0 782.6L229.5 780.3L231.0 778.1L232.5 776.0L234.0 773.8L235.5 771.5L237.0 768.9L238.5 766.2L240.0 763.4L241.5 760.7L243.0 758.0L244.5 755.5L246.0 753.1L247.5 750.6L249.0 748.0L250.5 745.4L252.0 742.8L253.5 740.3L255.0 737.8L256.5 735.4L258.0 732.8L259.5 730.1L261.0 727.1L262.5 724.0L264.0 720.9L265.5 717.7L267.0 714.6L268.5 711.4L270.0 708.2L271.5 704.9L273.0 701.6L274.5 698.3L276.0 695.0L277.5 691.6L279.0 688.4L280.5 685.1L282.0 681.8L283.5 678.3L285.0 674.7L286.5 671.0L288.0 667.3L289.5 663.6L291.0 660.0L292.5 656.5L294.0 653.2L295.5 650.0L297.0 647.0L298.5 644.2L300.0 641.4L301.5 638.8L303.0 636.1L304.5 633.5L306.0 630.9L307.5 628.2L309.0 625.5L310.5 622.7L312.0 619.9L313.5 617.2L315.0 614.5L316.5 612.0L318.0 609.6L319.5 607.3L321.0 605.1L322.5 603.1L324.0 601.1L325.5 599.2L327.0 597.5L328.5 595.9L330.0 594.4L331.5 593.1L333.0 591.9L334.5 590.9L336.0 590.0L337.5 589.3L339.0 588.7L340.5 588.4L342.0 588.2L343.5 588.3L345.0 588.6L346.5 588.9L348.0 589.5L349.5 590.1L351.0 591.0L352.5 592.0L354.0 593.2L355.5 594.6L357.0 596.3L358.5 598.2L360.0 600.2L361.5 602.2L363.0 604.4L364.5 606.6L366.0 609.0L367.5 611.4L369.0 614.0L370.5 616.7L372.0 619.5L373.5 622.3L375.0 625.3L376.5 628.3L378.0 631.5L379.5 634.9L381.0 638.4L382.5 642.0L384.0 645.9L385.5 649.8L387.0 653.9L388.5 658.0L390.0 662.2L391.5 666.5L393.0 671.1L394.5 675.8L396.0 680.7L397.5 685.5L399.0 690.3L400.5 695.0L402.0 699.6L403.5 704.1L405.0 708.6L406.5 713.0L408.0 717.6L409.5 722.4L411.0 727.3L412.5 732.3L414.0 736.9L415.5 741.0L417.0 744.8L418.5 748.4L420.0 751.8L421.5 755.2L423.0 758.4L424.5 761.6L426.0 764.8L427.5 767.9L429.0 771.0L430.5 774.1L432.0 777.0L433.5 779.9L435.0 782.7L436.5 785.4L438.0 788.0L439.5 790.5L441.0 792.8L442.5 795.0L444.0 797.0L445.5 798.9L447.0 800.6L448.5 802.3L450.0 803.8L451.5 805.2L453.0 806.6L454.5 807.8L456.0 809.0L457.5 810.1L459.0 811.2L460.5 812.3L462.0 813.4L463.5 814.5L465.0 815.5L466.5 816.5L468.0 817.4L469.5 818.2L471.0 818.9L472.5 819.5L474.0 820.2L475.5 820.8L477.0 821.5L478.5 822.3L480.0 823.1L481.5 823.9L483.0 824.6L484.5 825.1L486.0 825.7L487.5 826.2L489.0 826.6L490.5 827.1L492.0 827.5L493.5 827.9L495.0 828.3L496.5 828.7L498.0 829.1L499.5 829.5L501.0 829.9L502.5 830.2L504.0 830.6L505.5 830.9L507.0 831.2L508.5 831.5L510.0 831.8L511.5 832.1L513.0 832.4L514.5 832.7L516.0 833.0L517.5 833.3L519.0 833.6L520.5 833.9L522.0 834.2L523.5 834.5L525.0 834.8L526.5 835.0L528.0 835.3L529.5 835.5L531.0 835.7L532.5 835.9L534.0 836.0L535.5 836.2L537.0 836.3L538.5 836.5L540.0 836.6L541.5 836.7L543.0 836.8L544.5 836.9L546.0 837.0L547.5 837.1L549.0 837.2L550.5 837.3L552.0 837.4L553.5 837.4L555.0 837.5L556.5 837.6L558.0 837.6L559.5 837.7L561.0 837.7L562.5 837.8L564.0 837.8L565.5 837.8L567.0 837.8L568.5 837.9L570.0 837.9L571.5 837.9L573.0 837.9L574.5 837.9L576.0 837.9L577.5 837.9L579.0 837.9L580.5 837.9L582.0 837.9L583.5 837.9L585.0 837.9L586.5 837.9L588.0 837.9L589.5 837.9L591.0 837.9L592.5 837.9L594.0 837.9L595.5 837.9L597.0 837.8L598.5 837.8L600.0 837.8L601.5 837.8L603.0 837.8L604.5 837.8L606.0 837.7L607.5 837.7L609.0 837.7L610.5 837.7L612.0 837.6L613.5 837.6L615.0 837.6L616.5 837.5L618.0 837.5L619.5 837.4L621.0 837.4L622.5 837.3L624.0 837.3L625.5 837.2L627.0 837.2L628.5 837.1L630.0 837.1L631.5 837.1L633.0 837.1L634.5 837.1L636.0 837.0L637.5 837.0L639.0 837.0L640.5 837.0L642.0 837.0L643.5 837.0L645.0 836.9L646.5 836.9L648.0 836.9L649.5 836.9" stroke="#006600" stroke-width="4.8"/>
<path d="M60.0 840.1L61.5 839.6L63.0 838.8L64.5 837.9L66.0 836.8L67.5 835.7L69.0 834.5L70.5 833.3L72.0 832.2L73.5 831.1L75.0 830.0L76.5 829.0L78.0 827.9L79.5 826.8L81.0 825.7L82.5 824.5L84.0 823.3L85.5 822.0L87.0 820.7L88.5 819.4L90.0 818.1L91.5 816.9L93.0 815.6L94.5 814.3L96.0 813.1L97.5 811.8L99.0 810.6L100.5 809.3L102.0 808.1L103.5 806.9L105.0 805.6L106.5 804.5L108.0 803.3L109.5 802.3L111.0 801.4L112.5 800.7L114.0 800.2L115.5 799.9L117.0 799.8L118.5 799.9L120.0 800.3L121.5 800.9L123.0 801.7L124.5 802.7L126.0 803.7L127.5 804.8L129.0 805.8L130.5 806.9L132.0 807.9L133.5 808.9L135.0 809.9L136.5 810.9L138.0 812.0L139.5 813.1L141.0 814.3L142.5 815.5L144.0 816.8L145.5 818.0L147.0 819.2L148.5 820.2L150.0 821.2L151.5 822.0L153.0 822.8L154.5 823.6L156.0 824.3L157.5 824.9L159.0 825.5L160.5 826.0L162.0 826.4L163.5 826.8L165.0 827.1L166.5 827.2L168.0 827.4L169.5 827.4L171.0 827.5L172.5 827.4L174.0 827.3L175.5 827.1L177.0 826.8L178.5 826.5L180.0 826.1L181.5 825.8L183.0 825.6L184.5 825.3L186.0 825.0L187.5 824.6L189.0 824.2L190.5 823.8L192.0 823.3L193.5 822.7L195.0 822.0L196.5 821.2L198.0 820.3L199.5 819.3L201.0 818.3L202.5 817.1L204.0 815.9L205.5 814.5L207.0 812.9L208.5 811.2L210.0 809.4L211.5 807.6L213.0 805.8L214.5 803.8L216.0 801.8L217.5 799.6L219.0 797.3L220.5 795.0L222.0 792.7L223.5 790.4L225.0 788.2L226.5 785.9L228.0 783.7L229.5 781.6L231.0 779.5L232.5 777.5L234.0 775.4L235.5 773.2L237.0 770.7L238.5 768.0L240.0 765.3L241.5 762.6L243.0 760.0L244.5 757.5L246.0 755.1L247.5 752.6L249.0 750.1L250.5 747.5L252.0 745.0L253.5 742.6L255.0 740.2L256.5 737.9L258.0 735.4L259.5 732.7L261.0 729.9L262.5 726.9L264.0 723.9L265.5 720.8L267.0 717.7L268.5 714.6L270.0 711.5L271.5 708.3L273.0 705.0L274.5 701.7L276.0 698.4L277.5 695.1L279.0 691.9L280.5 688.7L282.0 685.5L283.5 682.1L285.0 678.7L286.5 675.1L288.0 671.5L289.5 667.9L291.0 664.4L292.5 661.1L294.0 658.0L295.5 655.0L297.0 652.2L298.5 649.5L300.0 646.9L301.5 644.4L303.0 641.9L304.5 639.4L306.0 636.8L307.5 634.3L309.0 631.6L310.5 629.0L312.0 626.3L313.5 623.6L315.0 621.1L316.5 618.6L318.0 616.4L319.5 614.2L321.0 612.2L322.5 610.3L324.0 608.4L325.5 606.7L327.0 605.0L328.5 603.4L330.0 602.0L331.5 600.7L333.0 599.5L334.5 598.5L336.0 597.7L337.5 596.9L339.0 596.4L340.5 596.0L342.0 595.9L343.5 596.0L345.0 596.2L346.5 596.6L348.0 597.2L349.5 597.8L351.0 598.7L352.5 599.7L354.0 600.9L355.5 602.3L357.0 603.9L358.5 605.7L360.0 607.7L361.5 609.7L363.0 611.8L364.5 614.0L366.0 616.3L367.5 618.6L369.0 621.1L370.5 623.7L372.0 626.4L373.5 629.2L375.0 632.0L376.5 635.0L378.0 638.1L379.5 641.3L381.0 644.7L382.5 648.3L384.0 652.1L385.5 656.0L387.0 659.9L388.5 664.0L390.0 668.1L391.5 672.3L393.0 676.7L394.5 681.3L396.0 685.9L397.5 690.5L399.0 695.0L400.5 699.4L402.0 703.7L403.5 708.0L405.0 712.1L406.5 716.3L408.0 720.7L409.5 725.3L411.0 730.1L412.5 734.9L414.0 739.3L415.5 743.3L417.0 746.9L418.5 750.3L420.0 753.5L421.5 756.7L423.0 759.9L424.5 763.0L426.0 766.1L427.5 769.1L429.0 772.1L430.5 775.1L432.0 778.0L433.5 780.9L435.0 783.7L436.5 786.3L438.0 788.9L439.5 791.3L441.0 793.6L442.5 795.7L444.0 797.7L445.5 799.5L447.0 801.2L448.5 802.8L450.0 804.3L451.5 805.6L453.0 806.9L454.5 808.1L456.0 809.2L457.5 810.3L459.0 811.4L460.5 812.5L462.0 813.5L463.5 814.6L465.0 815.6L466.5 816.5L468.0 817.4L469.5 818.1L471.0 818.8L472.5 819.4L474.0 820.0L475.5 820.6L477.0 821.3L478.5 822.1L480.0 822.9L481.5 823.7L483.0 824.4L484.5 825.0L486.0 825.5L487.5 825.9L489.0 826.4L490.5 826.8L492.0 827.3L493.5 827.7L495.0 828.1L496.5 828.5L498.0 828.9L499.5 829.2L501.0 829.6L502.5 829.9L504.0 830.3L505.5 830.6L507.0 830.9L508.5 831.2L510.0 831.5L511.5 831.8L513.0 832.1L514.5 832.4L516.0 832.7L517.5 833.0L519.0 833.3L520.5 833.6L522.0 833.9L523.5 834.2L525.0 834.5L526.5 834.7L528.0 835.0L529.5 835.2L531.0 835.4L532.5 835.6L534.0 835.7L535.5 835.9L537.0 836.0L538.5 836.1L540.0 836.2L541.5 836.4L543.0 836.5L544.5 836.6L546.0 836.7L547.5 836.8L549.0 836.8L550.5 836.9L552.0 837.0L553.5 837.1L555.0 837.2L556.5 837.3L558.0 837.3L559.5 837.4L561.0 837.4L562.5 837.4L564.0 837.5L565.5 837.5L567.0 837.5L568.5 837.5L570.0 837.5L571.5 837.6L573.0 837.6L574.5 837.6L576.0 837.6L577.5 837.6L579.0 837.6L580.5 837.6L582.0 837.6L583.5 837.6L585.0 837.6L586.5 837.6L588.0 837.6L589.5 837.6L591.0 837.5L592.5 837.5L594.0 837.5L595.5 837.5L597.0 837.5L598.5 837.5L600.0 837.4L601.5 837.4L603.0 837.4L604.5 837.4L606.0 837.4L607.5 837.3L609.0 837.3L610.5 837.3L612.0 837.2L613.5 837.2L615.0 837.2L616.5 837.1L618.0 837.1L619.5 837.0L621.0 837.0L622.5 836.9L624.0 836.8L625.5 836.8L627.0 836.8L628.5 836.7L630.0 836.7L631.5 836.7L633.0 836.7L634.5 836.6L636.0 836.6L637.5 836.6L639.0 836.6L640.5 836.6L642.0 836.6L643.5 836.5L645.0 836.5L646.5 836.5L648.0 836.5L649.5 836.5" stroke="#b3a2c7" stroke-width="4.8"/>
<path d="M60.0 840.9L61.5 840.4L63.0 839.7L64.5 838.7L66.0 837.7L67.5 836.5L69.0 835.3L70.5 834.1L72.0 832.9L73.5 831.9L75.0 830.8L76.5 829.8L78.0 828.8L79.5 827.7L81.0 826.6L82.5 825.5L84.0 824.3L85.5 823.1L87.0 821.8L88.5 820.6L90.0 819.4L91.5 818.2L93.0 817.0L94.5 815.8L96.0 814.7L97.5 813.5L99.0 812.3L100.5 811.1L102.0 809.9L103.5 808.7L105.0 807.5L106.5 806.3L108.0 805.1L109.5 804.1L111.0 803.2L112.5 802.5L114.0 802.0L115.5 801.6L117.0 801.5L118.5 801.7L120.0 802.1L121.5 802.8L123.0 803.6L124.5 804.6L126.0 805.6L127.5 806.6L129.0 807.6L130.5 808.6L132.0 809.6L133.5 810.5L135.0 811.4L136.5 812.4L138.0 813.4L139.5 814.4L141.0 815.5L142.5 816.6L144.0 817.8L145.5 818.9L147.0 820.0L148.5 821.0L150.0 821.9L151.5 822.7L153.0 823.4L154.5 824.1L156.0 824.7L157.5 825.3L159.0 825.9L160.5 826.3L162.0 826.7L163.5 827.0L165.0 827.2L166.5 827.4L168.0 827.5L169.5 827.5L171.0 827.6L172.5 827.5L174.0 827.4L175.5 827.2L177.0 826.9L178.5 826.6L180.0 826.3L181.5 826.0L183.0 825.7L184.5 825.5L186.0 825.2L187.5 824.9L189.0 824.6L190.5 824.2L192.0 823.7L193.5 823.1L195.0 822.5L196.5 821.7L198.0 820.9L199.5 819.9L201.0 819.0L202.5 817.9L204.0 816.7L205.5 815.3L207.0 813.8L208.5 812.1L210.0 810.4L211.5 808.7L213.0 806.9L214.5 805.0L216.0 802.9L217.5 800.7L219.0 798.5L220.5 796.3L222.0 794.1L223.5 791.9L225.0 789.8L226.5 787.7L228.0 785.7L229.5 783.7L231.0 781.8L232.5 780.0L234.0 778.1L235.5 776.1L237.0 773.8L238.5 771.3L240.0 768.6L241.5 766.0L243.0 763.4L244.5 761.0L246.0 758.5L247.5 756.1L249.0 753.7L250.5 751.2L252.0 748.9L253.5 746.6L255.0 744.4L256.5 742.2L258.0 739.8L259.5 737.3L261.0 734.6L262.5 731.9L264.0 729.0L265.5 726.2L267.0 723.3L268.5 720.3L270.0 717.3L271.5 714.2L273.0 711.0L274.5 707.7L276.0 704.5L277.5 701.2L279.0 698.1L280.5 695.0L282.0 691.9L283.5 688.8L285.0 685.6L286.5 682.2L288.0 678.9L289.5 675.5L291.0 672.3L292.5 669.2L294.0 666.4L295.5 663.7L297.0 661.2L298.5 658.8L300.0 656.5L301.5 654.2L303.0 651.9L304.5 649.6L306.0 647.3L307.5 644.9L309.0 642.4L310.5 640.0L312.0 637.5L313.5 635.0L315.0 632.6L316.5 630.3L318.0 628.3L319.5 626.4L321.0 624.7L322.5 622.9L324.0 621.2L325.5 619.6L327.0 618.1L328.5 616.6L330.0 615.3L331.5 614.0L333.0 612.9L334.5 611.9L336.0 611.0L337.5 610.3L339.0 609.7L340.5 609.3L342.0 609.2L343.5 609.4L345.0 609.7L346.5 610.1L348.0 610.6L349.5 611.3L351.0 612.1L352.5 613.1L354.0 614.3L355.5 615.6L357.0 617.2L358.5 618.9L360.0 620.8L361.5 622.7L363.0 624.7L364.5 626.8L366.0 629.0L367.5 631.3L369.0 633.6L370.5 636.0L372.0 638.5L373.5 641.1L375.0 643.8L376.5 646.6L378.0 649.5L379.5 652.6L381.0 655.9L382.5 659.4L384.0 663.0L385.5 666.7L387.0 670.5L388.5 674.4L390.0 678.3L391.5 682.4L393.0 686.5L394.5 690.8L396.0 695.1L397.5 699.3L399.0 703.3L400.5 707.2L402.0 711.0L403.5 714.7L405.0 718.3L406.5 722.1L408.0 726.0L409.5 730.3L411.0 734.9L412.5 739.4L414.0 743.6L415.5 747.3L417.0 750.6L418.5 753.6L420.0 756.5L421.5 759.5L423.0 762.4L424.5 765.4L426.0 768.3L427.5 771.2L429.0 774.1L430.5 776.9L432.0 779.8L433.5 782.6L435.0 785.3L436.5 787.9L438.0 790.4L439.5 792.8L441.0 795.0L442.5 797.0L444.0 798.9L445.5 800.6L447.0 802.2L448.5 803.7L450.0 805.1L451.5 806.3L453.0 807.5L454.5 808.6L456.0 809.7L457.5 810.7L459.0 811.7L460.5 812.8L462.0 813.8L463.5 814.8L465.0 815.7L466.5 816.6L468.0 817.4L469.5 818.1L471.0 818.7L472.5 819.2L474.0 819.7L475.5 820.3L477.0 821.0L478.5 821.7L480.0 822.6L481.5 823.3L483.0 824.0L484.5 824.6L486.0 825.1L487.5 825.6L489.0 826.0L490.5 826.4L492.0 826.8L493.5 827.2L495.0 827.6L496.5 828.0L498.0 828.4L499.5 828.7L501.0 829.1L502.5 829.4L504.0 829.8L505.5 830.1L507.0 830.4L508.5 830.7L510.0 831.0L511.5 831.3L513.0 831.6L514.5 831.9L516.0 832.2L517.5 832.5L519.0 832.8L520.5 833.1L522.0 833.4L523.5 833.7L525.0 833.9L526.5 834.2L528.0 834.4L529.5 834.7L531.0 834.9L532.5 835.0L534.0 835.2L535.5 835.3L537.0 835.4L538.5 835.6L540.0 835.7L541.5 835.8L543.0 835.9L544.5 836.0L546.0 836.1L547.5 836.2L549.0 836.3L550.5 836.4L552.0 836.5L553.5 836.5L555.0 836.6L556.5 836.7L558.0 836.7L559.5 836.8L561.0 836.8L562.5 836.8L564.0 836.9L565.5 836.9L567.0 836.9L568.5 836.9L570.0 836.9L571.5 837.0L573.0 837.0L574.5 837.0L576.0 837.0L577.5 837.0L579.0 837.0L580.5 837.0L582.0 837.0L583.5 837.0L585.0 837.0L586.5 837.0L588.0 837.0L589.5 836.9L591.0 836.9L592.5 836.9L594.0 836.9L595.5 836.9L597.0 836.8L598.5 836.8L600.0 836.8L601.5 836.8L603.0 836.8L604.5 836.7L606.0 836.7L607.5 836.7L609.0 836.6L610.5 836.6L612.0 836.6L613.5 836.5L615.0 836.5L616.5 836.4L618.0 836.4L619.5 836.3L621.0 836.3L622.5 836.2L624.0 836.1L625.5 836.1L627.0 836.0L628.5 836.0L630.0 836.0L631.5 835.9L633.0 835.9L634.5 835.9L636.0 835.9L637.5 835.9L639.0 835.9L640.5 835.8L642.0 835.8L643.5 835.8L645.0 835.8L646.5 835.8L648.0 835.8L649.5 835.8" stroke="#0000ff" stroke-width="5.8"/>
</g>
<g fill="none" stroke="#111" stroke-width="1.6">
<path d="M390.4 69.8H453.5M441.1 62.6L454 69.8L441.1 78.2"/>
<path d="M358.5 521.5H420.5M407 515.3L420.9 521.5L407 528.5"/>
<path d="M222.1 201V253M215 240.4L222.1 253.3L229.6 240.4"/>
<path d="M185 676.5V728.6M177.7 715.6L185 729.1L193.5 715.6"/>
</g>
<text transform="translate(32.0 387.0) scale(1.05 1)" text-anchor="end" class="tk">0</text>
<text transform="translate(32.0 325.1) scale(1.05 1)" text-anchor="end" class="tk">30</text>
<text transform="translate(32.0 263.2) scale(1.05 1)" text-anchor="end" class="tk">60</text>
<text transform="translate(32.0 201.3) scale(1.05 1)" text-anchor="end" class="tk">90</text>
<text transform="translate(32.0 139.4) scale(1.05 1)" text-anchor="end" class="tk">120</text>
<text transform="translate(32.0 77.5) scale(1.05 1)" text-anchor="end" class="tk">150</text>
<text transform="translate(32.0 15.6) scale(1.05 1)" text-anchor="end" class="tk">180</text>
<text transform="translate(48.8 417.5) scale(1.05 1)" text-anchor="middle" class="tk">220</text>
<text transform="translate(195.4 417.5) scale(1.05 1)" text-anchor="middle" class="tk">250</text>
<text transform="translate(341.8 417.5) scale(1.05 1)" text-anchor="middle" class="tk">280</text>
<text transform="translate(487.0 417.5) scale(1.05 1)" text-anchor="middle" class="tk">310</text>
<text transform="translate(633.6 417.5) scale(1.05 1)" text-anchor="middle" class="tk">340</text>
<text transform="translate(41.8 851.8) scale(1.05 1)" text-anchor="end" class="tk">0</text>
<text transform="translate(41.8 781.7) scale(1.05 1)" text-anchor="end" class="tk">200</text>
<text transform="translate(41.8 711.7) scale(1.05 1)" text-anchor="end" class="tk">400</text>
<text transform="translate(41.8 641.6) scale(1.05 1)" text-anchor="end" class="tk">600</text>
<text transform="translate(41.8 571.6) scale(1.05 1)" text-anchor="end" class="tk">800</text>
<text transform="translate(41.8 501.5) scale(1.05 1)" text-anchor="end" class="tk">1000</text>
<text transform="translate(57.9 882.2) scale(1.05 1)" text-anchor="middle" class="tk">220</text>
<text transform="translate(199.9 882.2) scale(1.05 1)" text-anchor="middle" class="tk">250</text>
<text transform="translate(341.9 882.2) scale(1.05 1)" text-anchor="middle" class="tk">280</text>
<text transform="translate(483.8 882.2) scale(1.05 1)" text-anchor="middle" class="tk">310</text>
<text transform="translate(624.5 882.2) scale(1.05 1)" text-anchor="middle" class="tk">340</text>
<text x="294.8" y="30.2" class="ttl">&#916;&#955;=15nm</text>
<text x="294.8" y="505.5" class="ttl">&#916;&#955;=60nm</text>
<text x="102.9" y="44.3" class="lab" transform="translate(102.9 0) scale(1.02 1) translate(-102.9 0)">A</text>
<text x="117.8" y="523.7" class="lab" transform="translate(117.8 0) scale(0.9 1) translate(-117.8 0)">B</text>
<text x="461.2" y="74" class="bsa" textLength="36" lengthAdjust="spacingAndGlyphs">BSA</text>
<text x="424.4" y="529.6" class="bsa" textLength="36.5" lengthAdjust="spacingAndGlyphs">BSA</text>
<text x="189" y="187.2" class="conc" textLength="66" lengthAdjust="spacingAndGlyphs">0.001mM</text>
<text x="189" y="275.5" class="conc" textLength="66" lengthAdjust="spacingAndGlyphs">0.009mM</text>
<text x="152.3" y="663.5" class="conc" textLength="67" lengthAdjust="spacingAndGlyphs">0.001mM</text>
<text x="152.3" y="751.8" class="conc" textLength="67" lengthAdjust="spacingAndGlyphs">0.009mM</text>
</svg>
</body></html>
